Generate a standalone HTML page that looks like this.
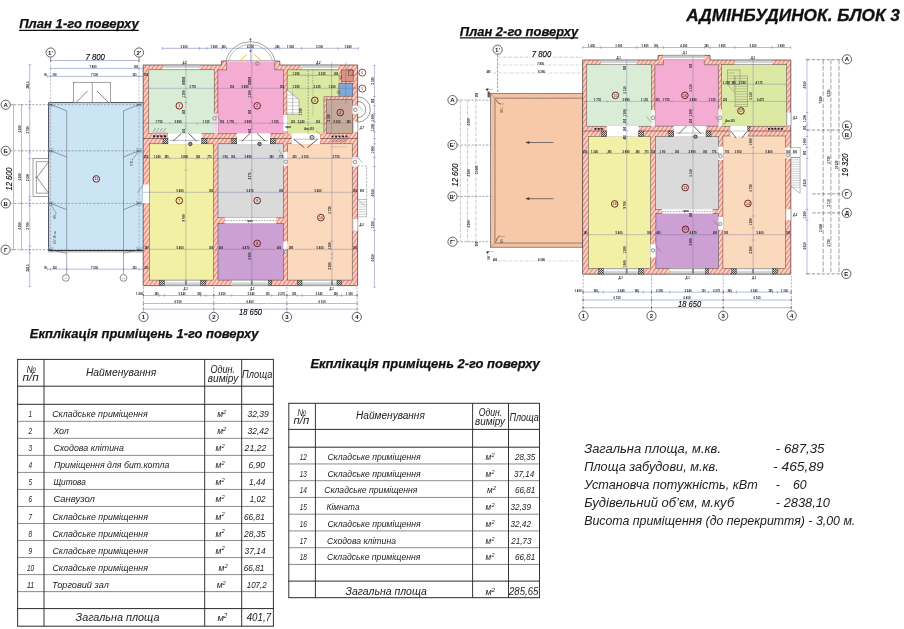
<!DOCTYPE html>
<html><head><meta charset="utf-8"><title>Адмінбудинок. Блок 3</title>
<style>
html,body{margin:0;padding:0;background:#fff;}
body{width:904px;height:629px;overflow:hidden;position:relative;font-family:"Liberation Sans",sans-serif;}
svg{position:absolute;left:0;top:0;display:block}
svg text{font-family:"Liberation Sans",sans-serif;}
.bi{font-weight:bold;font-style:italic}
.it{font-style:italic}
</style></head><body>
<svg width="904" height="629" viewBox="0 0 904 629">
<defs>
<filter id="soft" x="0" y="0" width="904" height="629" filterUnits="userSpaceOnUse"><feGaussianBlur stdDeviation="0.6"/></filter>
<pattern id="h" width="3.4" height="3.4" patternUnits="userSpaceOnUse" patternTransform="rotate(35)">
<rect width="3.4" height="3.4" fill="#fbd3cc"/><rect width="1.5" height="3.4" fill="#f0927b"/>
</pattern>
<pattern id="h2" width="2" height="2" patternUnits="userSpaceOnUse" patternTransform="rotate(-45)">
<rect width="2" height="2" fill="#fbd0b4"/><rect width="0.7" height="2" fill="#eda483"/>
</pattern>
<pattern id="ck" width="2" height="2" patternUnits="userSpaceOnUse">
<rect width="2" height="2" fill="#cfcfcf"/><rect width="1" height="1" fill="#4a4a4a"/><rect x="1" y="1" width="1" height="1" fill="#4a4a4a"/>
</pattern>
</defs>
<g id="plan1" filter="url(#soft)">
<rect x="48.40" y="102.60" width="95.00" height="148.30" fill="#cbe5f5" />
<line x1="10.50" y1="104.70" x2="50.00" y2="104.70" stroke="#555" stroke-width="0.5" stroke-dasharray="2.2 1.4" />
<line x1="50.00" y1="104.70" x2="143.00" y2="104.70" stroke="#5a6670" stroke-width="0.5" stroke-dasharray="2.2 1.4" />
<line x1="10.50" y1="150.80" x2="50.00" y2="150.80" stroke="#555" stroke-width="0.5" stroke-dasharray="2.2 1.4" />
<line x1="50.00" y1="150.80" x2="143.00" y2="150.80" stroke="#5a6670" stroke-width="0.5" stroke-dasharray="2.2 1.4" />
<line x1="10.50" y1="203.40" x2="50.00" y2="203.40" stroke="#555" stroke-width="0.5" stroke-dasharray="2.2 1.4" />
<line x1="50.00" y1="203.40" x2="143.00" y2="203.40" stroke="#5a6670" stroke-width="0.5" stroke-dasharray="2.2 1.4" />
<line x1="10.50" y1="249.70" x2="50.00" y2="249.70" stroke="#555" stroke-width="0.5" stroke-dasharray="2.2 1.4" />
<line x1="50.00" y1="249.70" x2="143.00" y2="249.70" stroke="#5a6670" stroke-width="0.5" stroke-dasharray="2.2 1.4" />
<line x1="50.60" y1="57.30" x2="50.60" y2="251.00" stroke="#777" stroke-width="0.45" stroke-dasharray="2.2 1.4" />
<line x1="139.00" y1="57.30" x2="139.00" y2="251.00" stroke="#777" stroke-width="0.45" stroke-dasharray="2.2 1.4" />
<line x1="48.40" y1="102.60" x2="143.40" y2="102.60" stroke="#333" stroke-width="0.9" />
<line x1="48.60" y1="102.60" x2="48.60" y2="250.90" stroke="#334" stroke-width="0.9" />
<line x1="48.40" y1="250.60" x2="143.40" y2="250.60" stroke="#333" stroke-width="1.1" />
<line x1="49.60" y1="252.20" x2="143.40" y2="252.20" stroke="#888" stroke-width="0.4" />
<line x1="66.70" y1="110.90" x2="66.70" y2="274.60" stroke="#556" stroke-width="0.5" />
<line x1="123.50" y1="110.90" x2="123.50" y2="274.60" stroke="#556" stroke-width="0.5" />
<line x1="50.30" y1="104.20" x2="66.70" y2="110.90" stroke="#445" stroke-width="0.5" />
<line x1="139.60" y1="104.20" x2="123.50" y2="110.90" stroke="#445" stroke-width="0.5" />
<line x1="51.00" y1="150.80" x2="66.70" y2="157.10" stroke="#445" stroke-width="0.5" />
<line x1="138.60" y1="150.80" x2="123.50" y2="157.10" stroke="#445" stroke-width="0.5" />
<line x1="51.00" y1="203.40" x2="66.70" y2="209.70" stroke="#445" stroke-width="0.5" />
<line x1="138.60" y1="203.40" x2="123.50" y2="209.70" stroke="#445" stroke-width="0.5" />
<line x1="51.00" y1="249.70" x2="66.70" y2="253.50" stroke="#445" stroke-width="0.45" />
<line x1="138.60" y1="249.70" x2="123.50" y2="253.50" stroke="#445" stroke-width="0.45" />
<rect x="48.20" y="102.50" width="4.80" height="4.40" fill="none" stroke="#8a97a2" stroke-width="0.4" />
<line x1="49.40" y1="103.50" x2="49.40" y2="105.90" stroke="#334" stroke-width="0.5" />
<line x1="51.80" y1="103.50" x2="51.80" y2="105.90" stroke="#334" stroke-width="0.5" />
<line x1="49.40" y1="104.70" x2="51.80" y2="104.70" stroke="#334" stroke-width="0.5" />
<rect x="48.20" y="148.60" width="4.80" height="4.40" fill="none" stroke="#8a97a2" stroke-width="0.4" />
<line x1="49.40" y1="149.60" x2="49.40" y2="152.00" stroke="#334" stroke-width="0.5" />
<line x1="51.80" y1="149.60" x2="51.80" y2="152.00" stroke="#334" stroke-width="0.5" />
<line x1="49.40" y1="150.80" x2="51.80" y2="150.80" stroke="#334" stroke-width="0.5" />
<rect x="48.20" y="201.20" width="4.80" height="4.40" fill="none" stroke="#8a97a2" stroke-width="0.4" />
<line x1="49.40" y1="202.20" x2="49.40" y2="204.60" stroke="#334" stroke-width="0.5" />
<line x1="51.80" y1="202.20" x2="51.80" y2="204.60" stroke="#334" stroke-width="0.5" />
<line x1="49.40" y1="203.40" x2="51.80" y2="203.40" stroke="#334" stroke-width="0.5" />
<rect x="48.20" y="247.50" width="4.80" height="4.40" fill="none" stroke="#8a97a2" stroke-width="0.4" />
<line x1="49.40" y1="248.50" x2="49.40" y2="250.90" stroke="#334" stroke-width="0.5" />
<line x1="51.80" y1="248.50" x2="51.80" y2="250.90" stroke="#334" stroke-width="0.5" />
<line x1="49.40" y1="249.70" x2="51.80" y2="249.70" stroke="#334" stroke-width="0.5" />
<rect x="136.60" y="102.50" width="4.80" height="4.40" fill="none" stroke="#8a97a2" stroke-width="0.4" />
<line x1="137.80" y1="103.50" x2="137.80" y2="105.90" stroke="#334" stroke-width="0.5" />
<line x1="140.20" y1="103.50" x2="140.20" y2="105.90" stroke="#334" stroke-width="0.5" />
<line x1="137.80" y1="104.70" x2="140.20" y2="104.70" stroke="#334" stroke-width="0.5" />
<rect x="136.60" y="148.60" width="4.80" height="4.40" fill="none" stroke="#8a97a2" stroke-width="0.4" />
<line x1="137.80" y1="149.60" x2="137.80" y2="152.00" stroke="#334" stroke-width="0.5" />
<line x1="140.20" y1="149.60" x2="140.20" y2="152.00" stroke="#334" stroke-width="0.5" />
<line x1="137.80" y1="150.80" x2="140.20" y2="150.80" stroke="#334" stroke-width="0.5" />
<rect x="136.60" y="201.20" width="4.80" height="4.40" fill="none" stroke="#8a97a2" stroke-width="0.4" />
<line x1="137.80" y1="202.20" x2="137.80" y2="204.60" stroke="#334" stroke-width="0.5" />
<line x1="140.20" y1="202.20" x2="140.20" y2="204.60" stroke="#334" stroke-width="0.5" />
<line x1="137.80" y1="203.40" x2="140.20" y2="203.40" stroke="#334" stroke-width="0.5" />
<rect x="136.60" y="247.50" width="4.80" height="4.40" fill="none" stroke="#8a97a2" stroke-width="0.4" />
<line x1="137.80" y1="248.50" x2="137.80" y2="250.90" stroke="#334" stroke-width="0.5" />
<line x1="140.20" y1="248.50" x2="140.20" y2="250.90" stroke="#334" stroke-width="0.5" />
<line x1="137.80" y1="249.70" x2="140.20" y2="249.70" stroke="#334" stroke-width="0.5" />
<text font-size="3" fill="#333" transform="translate(55.6,244) rotate(-90)">107,20 м²</text>
<text font-size="2.6" fill="#333" transform="translate(55.6,219) rotate(-90)">НЛ-1</text>
<text font-size="2.6" fill="#333" transform="translate(133.3,166) rotate(-90)">ГПЛ-1</text>
<line x1="56.60" y1="214.00" x2="50.80" y2="204.50" stroke="#445" stroke-width="0.4" />
<line x1="132.00" y1="160.00" x2="138.60" y2="151.50" stroke="#445" stroke-width="0.4" />
<rect x="73.40" y="82.20" width="37.20" height="20.40" fill="#fff" stroke="#444" stroke-width="0.5" />
<line x1="92.30" y1="82.20" x2="92.30" y2="102.60" stroke="#444" stroke-width="0.5" />
<line x1="75.90" y1="102.60" x2="87.60" y2="90.90" stroke="#333" stroke-width="0.6" />
<line x1="108.50" y1="102.60" x2="96.80" y2="90.90" stroke="#333" stroke-width="0.6" />
<rect x="33.00" y="158.40" width="15.40" height="38.30" fill="#fff" stroke="#444" stroke-width="0.5" />
<polyline points="48.40,161.70 36.40,161.70 36.40,193.20 48.40,193.20" fill="none" stroke="#444" stroke-width="0.5" />
<line x1="48.20" y1="162.30" x2="37.00" y2="177.40" stroke="#333" stroke-width="0.55" />
<line x1="48.20" y1="192.70" x2="37.00" y2="177.40" stroke="#333" stroke-width="0.55" />
<line x1="35.20" y1="177.40" x2="37.60" y2="177.40" stroke="#333" stroke-width="0.5" />
<circle cx="65.90" cy="277.90" r="3.4" fill="#fff" stroke="#333" stroke-width="0.55"/>
<circle cx="123.50" cy="277.90" r="3.4" fill="#fff" stroke="#333" stroke-width="0.55"/>
<text x="65.90" y="278.90" font-size="2.4" text-anchor="middle" fill="#333" style="" >К-1</text>
<text x="123.50" y="278.90" font-size="2.4" text-anchor="middle" fill="#333" style="" >К-1</text>
<polygon points="143.20,65.00 221.50,65.00 221.50,61.00 279.80,61.00 279.80,65.00 357.60,65.00 357.60,285.60 143.20,285.60" fill="url(#h)" stroke="#2e2e2e" stroke-width="0.65" />
<rect x="148.80" y="69.80" width="65.40" height="63.80" fill="#d9edd6" />
<rect x="217.80" y="69.80" width="65.70" height="63.80" fill="#f5acd3" />
<rect x="226.60" y="61.60" width="48.10" height="8.40" fill="#f5acd3" />
<polygon points="287.30,69.80 338.60,69.80 338.60,96.60 324.00,96.60 324.00,133.60 287.30,133.60" fill="#dce9a2" />
<rect x="326.70" y="99.50" width="25.90" height="33.80" fill="#c6aa9c" />
<rect x="338.90" y="83.20" width="13.90" height="13.00" fill="#7caadb" />
<rect x="341.20" y="69.90" width="12.00" height="11.80" fill="#db947f" />
<rect x="149.50" y="143.80" width="63.90" height="136.30" fill="#f2f0a5" />
<rect x="218.00" y="143.80" width="65.50" height="74.00" fill="#dadada" />
<rect x="218.00" y="223.30" width="65.50" height="56.80" fill="#cca0d3" />
<rect x="287.50" y="143.80" width="64.70" height="136.30" fill="#fbd9bc" />
<rect x="148.80" y="69.80" width="65.40" height="63.80" fill="none" stroke="#484848" stroke-width="0.5" />
<rect x="149.50" y="143.80" width="63.90" height="136.30" fill="none" stroke="#484848" stroke-width="0.5" />
<rect x="218.00" y="143.80" width="65.50" height="74.00" fill="none" stroke="#484848" stroke-width="0.5" />
<rect x="218.00" y="223.30" width="65.50" height="56.80" fill="none" stroke="#484848" stroke-width="0.5" />
<rect x="287.50" y="143.80" width="64.70" height="136.30" fill="none" stroke="#484848" stroke-width="0.5" />
<rect x="326.70" y="99.50" width="25.90" height="33.80" fill="none" stroke="#484848" stroke-width="0.5" />
<rect x="338.90" y="83.20" width="13.90" height="13.00" fill="none" stroke="#484848" stroke-width="0.5" />
<rect x="341.20" y="69.90" width="12.00" height="11.80" fill="none" stroke="#484848" stroke-width="0.5" />
<polyline points="226.60,61.60 226.60,69.80 217.80,69.80 217.80,133.60 283.50,133.60 283.50,69.80 274.70,69.80 274.70,61.60" fill="none" stroke="#484848" stroke-width="0.5" />
<polyline points="287.30,133.60 287.30,69.80 338.60,69.80" fill="none" stroke="#484848" stroke-width="0.5" />
<polyline points="323.90,133.60 323.90,96.70 338.90,96.70" fill="none" stroke="#4a4a4a" stroke-width="0.5" />
<rect x="348.50" y="70.00" width="4.50" height="5.60" fill="none" stroke="#333" stroke-width="0.45" />
<line x1="348.50" y1="70.00" x2="353.00" y2="75.60" stroke="#555" stroke-width="0.3" />
<line x1="143.20" y1="138.50" x2="357.60" y2="138.50" stroke="#333" stroke-width="0.55" />
<rect x="153.00" y="135.30" width="2.20" height="2.00" fill="#223" />
<rect x="156.60" y="135.30" width="2.20" height="2.00" fill="#223" />
<rect x="160.20" y="135.30" width="2.20" height="2.00" fill="#223" />
<rect x="163.80" y="135.30" width="2.20" height="2.00" fill="#223" />
<line x1="153.00" y1="131.50" x2="155.60" y2="128.00" stroke="#445" stroke-width="0.45" />
<line x1="156.40" y1="131.50" x2="159.00" y2="128.00" stroke="#445" stroke-width="0.45" />
<line x1="159.80" y1="131.50" x2="162.40" y2="128.00" stroke="#445" stroke-width="0.45" />
<line x1="163.20" y1="131.50" x2="165.80" y2="128.00" stroke="#445" stroke-width="0.45" />
<rect x="152.40" y="131.80" width="14.00" height="1.80" fill="#c9c0c8" />
<rect x="331.50" y="135.60" width="2.00" height="1.80" fill="#223" />
<rect x="335.00" y="135.60" width="2.00" height="1.80" fill="#223" />
<rect x="338.50" y="135.60" width="2.00" height="1.80" fill="#223" />
<rect x="342.00" y="135.60" width="2.00" height="1.80" fill="#223" />
<rect x="345.50" y="135.60" width="2.00" height="1.80" fill="#223" />
<line x1="331.00" y1="142.30" x2="334.00" y2="139.30" stroke="#223" stroke-width="0.7" />
<line x1="335.00" y1="142.30" x2="338.00" y2="139.30" stroke="#223" stroke-width="0.7" />
<line x1="339.00" y1="142.30" x2="342.00" y2="139.30" stroke="#223" stroke-width="0.7" />
<line x1="343.00" y1="142.30" x2="346.00" y2="139.30" stroke="#223" stroke-width="0.7" />
<line x1="330.00" y1="146.80" x2="347.00" y2="146.80" stroke="#99a" stroke-width="0.6" stroke-dasharray="1 0.6" />
<rect x="163.00" y="65.00" width="36.40" height="4.80" fill="#fff" />
<rect x="163.00" y="65.20" width="36.40" height="1.72" fill="#d2d2d2" />
<line x1="163.00" y1="65.30" x2="199.40" y2="65.30" stroke="#777" stroke-width="0.5" />
<line x1="163.00" y1="67.40" x2="199.40" y2="67.40" stroke="#888" stroke-width="0.4" />
<line x1="163.00" y1="69.50" x2="199.40" y2="69.50" stroke="#666" stroke-width="0.5" />
<rect x="301.50" y="65.00" width="36.30" height="4.80" fill="#fff" />
<rect x="301.50" y="65.20" width="36.30" height="1.72" fill="#d2d2d2" />
<line x1="301.50" y1="65.30" x2="337.80" y2="65.30" stroke="#777" stroke-width="0.5" />
<line x1="301.50" y1="67.40" x2="337.80" y2="67.40" stroke="#888" stroke-width="0.4" />
<line x1="301.50" y1="69.50" x2="337.80" y2="69.50" stroke="#666" stroke-width="0.5" />
<rect x="226.90" y="60.60" width="47.60" height="1.40" fill="#fff" />
<line x1="226.60" y1="61.00" x2="274.70" y2="61.00" stroke="#666" stroke-width="0.5" />
<line x1="240.00" y1="60.90" x2="247.00" y2="54.20" stroke="#e8a030" stroke-width="0.8" />
<line x1="261.70" y1="60.90" x2="254.20" y2="54.20" stroke="#e8a030" stroke-width="0.8" />
<circle cx="257.30" cy="63.60" r="1.7" fill="none" stroke="#333" stroke-width="0.45"/>
<rect x="168.00" y="133.20" width="33.70" height="10.90" fill="#fff" />
<rect x="236.80" y="133.20" width="33.40" height="10.90" fill="#fff" />
<rect x="291.70" y="133.20" width="28.20" height="10.90" fill="#fff" />
<rect x="163.00" y="138.50" width="5.00" height="5.30" fill="url(#ck)" stroke="#222" stroke-width="0.4" />
<rect x="201.70" y="138.50" width="5.30" height="5.30" fill="url(#ck)" stroke="#222" stroke-width="0.4" />
<rect x="231.80" y="138.50" width="5.00" height="5.30" fill="url(#ck)" stroke="#222" stroke-width="0.4" />
<rect x="270.20" y="138.50" width="5.00" height="5.30" fill="url(#ck)" stroke="#222" stroke-width="0.4" />
<rect x="275.20" y="138.50" width="0.00" height="0.00" fill="url(#ck)" stroke="#222" stroke-width="0.4" />
<line x1="170.00" y1="140.40" x2="199.70" y2="140.40" stroke="#666" stroke-width="0.45" />
<line x1="173.00" y1="141.20" x2="181.35" y2="133.40" stroke="#333" stroke-width="0.75" />
<line x1="196.70" y1="141.20" x2="188.35" y2="133.40" stroke="#333" stroke-width="0.75" />
<line x1="238.80" y1="140.40" x2="268.20" y2="140.40" stroke="#666" stroke-width="0.45" />
<line x1="241.80" y1="141.20" x2="250.00" y2="133.40" stroke="#333" stroke-width="0.75" />
<line x1="265.20" y1="141.20" x2="257.00" y2="133.40" stroke="#333" stroke-width="0.75" />
<line x1="293.70" y1="139.20" x2="317.90" y2="139.20" stroke="#666" stroke-width="0.45" />
<line x1="293.90" y1="139.20" x2="304.30" y2="147.70" stroke="#333" stroke-width="0.75" />
<line x1="317.70" y1="139.20" x2="307.30" y2="147.70" stroke="#333" stroke-width="0.75" />
<circle cx="190.30" cy="144.00" r="1.7" fill="#999" stroke="#222" stroke-width="0.8"/>
<circle cx="259.60" cy="144.00" r="1.7" fill="#999" stroke="#222" stroke-width="0.8"/>
<circle cx="312.00" cy="137.40" r="2.0" fill="#ccc" stroke="#222" stroke-width="0.7"/>
<rect x="224.80" y="217.60" width="51.50" height="5.90" fill="#fff" />
<line x1="224.80" y1="220.50" x2="276.30" y2="220.50" stroke="#555" stroke-width="0.5" stroke-dasharray="1.6 1.2" />
<text x="250.00" y="221.50" font-size="2.6" font-weight="bold" text-anchor="middle" fill="#1a1a1a" textLength="5.52" lengthAdjust="spacingAndGlyphs">арка</text>
<rect x="214.00" y="113.60" width="4.00" height="19.80" fill="#f8e6ee" />
<line x1="216.00" y1="113.60" x2="216.00" y2="133.40" stroke="#888" stroke-width="0.4" />
<circle cx="214.40" cy="118.40" r="1.7" fill="#eee" stroke="#333" stroke-width="0.45"/>
<line x1="216.00" y1="115.00" x2="220.50" y2="121.00" stroke="#555" stroke-width="0.4" />
<rect x="283.20" y="114.90" width="4.40" height="16.50" fill="#fff" />
<rect x="283.50" y="131.40" width="3.50" height="2.20" fill="url(#h)" />
<rect x="283.30" y="152.10" width="4.40" height="13.80" fill="#fff" />
<circle cx="285.70" cy="161.80" r="1.8" fill="#eee" stroke="#333" stroke-width="0.45"/>
<line x1="279.00" y1="150.00" x2="284.00" y2="158.00" stroke="#555" stroke-width="0.4" />
<rect x="283.30" y="241.50" width="4.40" height="7.70" fill="#fff" />
<circle cx="285.60" cy="251.80" r="1.4" fill="#eee" stroke="#333" stroke-width="0.4"/>
<line x1="287.70" y1="250.00" x2="291.50" y2="246.00" stroke="#555" stroke-width="0.4" />
<rect x="142.80" y="184.50" width="6.40" height="18.50" fill="#fff" />
<line x1="143.40" y1="184.60" x2="137.50" y2="193.20" stroke="#555" stroke-width="0.45" />
<rect x="352.40" y="105.80" width="5.60" height="8.00" fill="#fff" />
<circle cx="355.30" cy="109.80" r="1.8" fill="#eee" stroke="#333" stroke-width="0.45"/>
<rect x="353.00" y="121.80" width="5.00" height="10.10" fill="#fff" />
<line x1="353.30" y1="121.80" x2="353.30" y2="131.90" stroke="#888" stroke-width="0.5" />
<line x1="357.70" y1="121.80" x2="357.70" y2="131.90" stroke="#777" stroke-width="0.5" />
<rect x="352.20" y="157.20" width="5.80" height="9.40" fill="#fff" />
<circle cx="355.00" cy="162.00" r="1.8" fill="#eee" stroke="#333" stroke-width="0.45"/>
<line x1="357.80" y1="157.50" x2="362.50" y2="163.00" stroke="#555" stroke-width="0.4" />
<rect x="352.60" y="219.00" width="5.40" height="11.60" fill="#fff" />
<line x1="352.90" y1="219.00" x2="352.90" y2="230.60" stroke="#888" stroke-width="0.5" />
<line x1="357.70" y1="219.00" x2="357.70" y2="230.60" stroke="#777" stroke-width="0.5" />
<rect x="159.20" y="280.10" width="46.70" height="5.50" fill="#fff" />
<rect x="159.20" y="283.40" width="46.70" height="2.00" fill="#d2d2d2" />
<line x1="159.20" y1="280.40" x2="205.90" y2="280.40" stroke="#777" stroke-width="0.5" />
<line x1="159.20" y1="282.85" x2="205.90" y2="282.85" stroke="#888" stroke-width="0.4" />
<line x1="159.20" y1="285.30" x2="205.90" y2="285.30" stroke="#666" stroke-width="0.5" />
<rect x="159.20" y="280.40" width="5.30" height="5.00" fill="url(#ck)" stroke="#222" stroke-width="0.4" />
<rect x="200.60" y="280.40" width="5.30" height="5.00" fill="url(#ck)" stroke="#222" stroke-width="0.4" />
<rect x="231.80" y="280.10" width="40.00" height="5.50" fill="#fff" />
<rect x="231.80" y="283.40" width="40.00" height="2.00" fill="#d2d2d2" />
<line x1="231.80" y1="280.40" x2="271.80" y2="280.40" stroke="#777" stroke-width="0.5" />
<line x1="231.80" y1="282.85" x2="271.80" y2="282.85" stroke="#888" stroke-width="0.4" />
<line x1="231.80" y1="285.30" x2="271.80" y2="285.30" stroke="#666" stroke-width="0.5" />
<rect x="268.60" y="280.40" width="3.20" height="5.00" fill="url(#ck)" stroke="#222" stroke-width="0.4" />
<rect x="297.30" y="280.10" width="44.30" height="5.50" fill="#fff" />
<rect x="297.30" y="283.40" width="44.30" height="2.00" fill="#d2d2d2" />
<line x1="297.30" y1="280.40" x2="341.60" y2="280.40" stroke="#777" stroke-width="0.5" />
<line x1="297.30" y1="282.85" x2="341.60" y2="282.85" stroke="#888" stroke-width="0.4" />
<line x1="297.30" y1="285.30" x2="341.60" y2="285.30" stroke="#666" stroke-width="0.5" />
<rect x="297.30" y="280.40" width="4.70" height="5.00" fill="url(#ck)" stroke="#222" stroke-width="0.4" />
<rect x="337.00" y="280.40" width="4.60" height="5.00" fill="url(#ck)" stroke="#222" stroke-width="0.4" />
<rect x="185.00" y="280.60" width="1.80" height="4.70" fill="#888" />
<rect x="250.90" y="280.60" width="1.80" height="4.70" fill="#888" />
<rect x="331.00" y="280.60" width="1.80" height="4.70" fill="#888" />
<polygon points="286.90,89.80 299.10,99.60 299.10,114.40 286.90,114.40" fill="#fcfcf8" stroke="#666" stroke-width="0.45" />
<line x1="286.90" y1="95.10" x2="293.50" y2="95.10" stroke="#888" stroke-width="0.35" />
<line x1="286.90" y1="98.70" x2="297.98" y2="98.70" stroke="#888" stroke-width="0.35" />
<line x1="286.90" y1="102.30" x2="299.10" y2="102.30" stroke="#888" stroke-width="0.35" />
<line x1="286.90" y1="105.80" x2="299.10" y2="105.80" stroke="#888" stroke-width="0.35" />
<line x1="286.90" y1="109.40" x2="299.10" y2="109.40" stroke="#888" stroke-width="0.35" />
<line x1="286.90" y1="112.90" x2="299.10" y2="112.90" stroke="#888" stroke-width="0.35" />
<line x1="292.80" y1="94.60" x2="292.80" y2="114.40" stroke="#999" stroke-width="0.3" />
<path d="M225.9 61 A25.3 25.3 0 0 1 275.1 61" fill="none" stroke="#555" stroke-width="0.55"/>
<path d="M228.4 61 A23 23 0 0 1 272.6 61" fill="none" stroke="#8a7a40" stroke-width="0.5"/>
<path d="M357.6 96.8 A12.7 12.7 0 0 1 357.6 122.2" fill="none" stroke="#444" stroke-width="0.55"/>
<path d="M357.6 101.3 A8.2 8.2 0 0 1 357.6 117.7" fill="none" stroke="#444" stroke-width="0.55"/>
<line x1="358.60" y1="105.50" x2="363.50" y2="111.50" stroke="#555" stroke-width="0.4" />
<polyline points="357.80,165.90 366.60,165.90 366.60,199.50" fill="none" stroke="#666" stroke-width="0.5" stroke-dasharray="2 1.4"/>
<rect x="357.80" y="199.50" width="8.40" height="17.40" fill="#fff" stroke="#666" stroke-width="0.4" />
<line x1="357.80" y1="201.95" x2="366.20" y2="201.95" stroke="#777" stroke-width="0.35" />
<line x1="357.80" y1="204.40" x2="366.20" y2="204.40" stroke="#777" stroke-width="0.35" />
<line x1="357.80" y1="206.85" x2="366.20" y2="206.85" stroke="#777" stroke-width="0.35" />
<line x1="357.80" y1="209.30" x2="366.20" y2="209.30" stroke="#777" stroke-width="0.35" />
<line x1="357.80" y1="211.75" x2="366.20" y2="211.75" stroke="#777" stroke-width="0.35" />
<line x1="357.80" y1="214.20" x2="366.20" y2="214.20" stroke="#777" stroke-width="0.35" />
<line x1="357.80" y1="199.50" x2="364.50" y2="205.50" stroke="#666" stroke-width="0.4" />
<line x1="143.20" y1="88.30" x2="357.60" y2="88.30" stroke="#666a9c" stroke-width="0.36" />
<line x1="143.20" y1="123.20" x2="324.00" y2="123.20" stroke="#666a9c" stroke-width="0.36" />
<line x1="143.20" y1="158.30" x2="357.60" y2="158.30" stroke="#666a9c" stroke-width="0.36" />
<line x1="143.20" y1="192.30" x2="357.60" y2="192.30" stroke="#666a9c" stroke-width="0.36" />
<line x1="143.20" y1="249.30" x2="357.60" y2="249.30" stroke="#666a9c" stroke-width="0.36" />
<line x1="185.90" y1="66.00" x2="185.90" y2="284.00" stroke="#666a9c" stroke-width="0.36" />
<line x1="251.80" y1="44.00" x2="251.80" y2="284.00" stroke="#666a9c" stroke-width="0.36" />
<line x1="331.90" y1="144.00" x2="331.90" y2="284.00" stroke="#666a9c" stroke-width="0.36" />
<line x1="308.20" y1="70.00" x2="308.20" y2="134.00" stroke="#4a5a6a" stroke-width="0.45" stroke-dasharray="2 1" />
<line x1="312.90" y1="70.00" x2="312.90" y2="116.00" stroke="#4a5a6a" stroke-width="0.35" stroke-dasharray="1.5 1" />
<line x1="331.60" y1="62.00" x2="331.60" y2="134.00" stroke="#6868ae" stroke-width="0.4" />
<line x1="345.80" y1="62.00" x2="345.80" y2="104.00" stroke="#6868ae" stroke-width="0.4" />
<line x1="292.50" y1="90.00" x2="292.50" y2="114.00" stroke="#889" stroke-width="0.3" />
<line x1="287.50" y1="75.30" x2="340.00" y2="75.30" stroke="#4a5a6a" stroke-width="0.4" />
<line x1="324.00" y1="123.20" x2="353.00" y2="123.20" stroke="#666a9c" stroke-width="0.36" />
<text x="159.00" y="122.70" font-size="3.5" font-weight="bold" text-anchor="middle" fill="#1a1a1a" textLength="6.90" lengthAdjust="spacingAndGlyphs">1 755</text>
<text x="178.00" y="122.70" font-size="3.5" font-weight="bold" text-anchor="middle" fill="#1a1a1a" textLength="6.90" lengthAdjust="spacingAndGlyphs">2 890</text>
<text x="206.00" y="122.70" font-size="3.5" font-weight="bold" text-anchor="middle" fill="#1a1a1a" textLength="6.90" lengthAdjust="spacingAndGlyphs">1 155</text>
<text x="222.00" y="122.70" font-size="3.5" font-weight="bold" text-anchor="middle" fill="#1a1a1a" textLength="4.14" lengthAdjust="spacingAndGlyphs">250</text>
<text x="230.50" y="122.70" font-size="3.5" font-weight="bold" text-anchor="middle" fill="#1a1a1a" textLength="6.90" lengthAdjust="spacingAndGlyphs">1 755</text>
<text x="248.00" y="122.70" font-size="3.5" font-weight="bold" text-anchor="middle" fill="#1a1a1a" textLength="6.90" lengthAdjust="spacingAndGlyphs">2 890</text>
<text x="275.00" y="122.70" font-size="3.5" font-weight="bold" text-anchor="middle" fill="#1a1a1a" textLength="6.90" lengthAdjust="spacingAndGlyphs">1 155</text>
<text x="293.00" y="122.70" font-size="3.5" font-weight="bold" text-anchor="middle" fill="#1a1a1a" textLength="4.14" lengthAdjust="spacingAndGlyphs">250</text>
<text x="301.00" y="122.70" font-size="3.5" font-weight="bold" text-anchor="middle" fill="#1a1a1a" textLength="6.90" lengthAdjust="spacingAndGlyphs">3 240</text>
<text x="318.00" y="122.70" font-size="3.5" font-weight="bold" text-anchor="middle" fill="#1a1a1a" textLength="4.14" lengthAdjust="spacingAndGlyphs">250</text>
<text x="337.00" y="122.70" font-size="3.5" font-weight="bold" text-anchor="middle" fill="#1a1a1a" textLength="6.90" lengthAdjust="spacingAndGlyphs">2 100</text>
<text x="348.50" y="122.70" font-size="3.5" font-weight="bold" text-anchor="middle" fill="#1a1a1a" textLength="4.14" lengthAdjust="spacingAndGlyphs">380</text>
<text x="192.60" y="87.80" font-size="3.5" font-weight="bold" text-anchor="middle" fill="#1a1a1a" textLength="6.90" lengthAdjust="spacingAndGlyphs">3 770</text>
<text x="232.00" y="87.80" font-size="3.5" font-weight="bold" text-anchor="middle" fill="#1a1a1a" textLength="4.14" lengthAdjust="spacingAndGlyphs">250</text>
<text x="245.00" y="87.80" font-size="3.5" font-weight="bold" text-anchor="middle" fill="#1a1a1a" textLength="6.90" lengthAdjust="spacingAndGlyphs">5 890</text>
<text x="282.00" y="87.80" font-size="3.5" font-weight="bold" text-anchor="middle" fill="#1a1a1a" textLength="4.14" lengthAdjust="spacingAndGlyphs">250</text>
<text x="296.00" y="87.80" font-size="3.5" font-weight="bold" text-anchor="middle" fill="#1a1a1a" textLength="6.90" lengthAdjust="spacingAndGlyphs">1 290</text>
<text x="317.00" y="87.80" font-size="3.5" font-weight="bold" text-anchor="middle" fill="#1a1a1a" textLength="6.90" lengthAdjust="spacingAndGlyphs">2 235</text>
<text x="332.00" y="87.80" font-size="3.5" font-weight="bold" text-anchor="middle" fill="#1a1a1a" textLength="6.90" lengthAdjust="spacingAndGlyphs">1 200</text>
<text x="146.00" y="157.80" font-size="3.5" font-weight="bold" text-anchor="middle" fill="#1a1a1a" textLength="4.14" lengthAdjust="spacingAndGlyphs">250</text>
<text x="157.00" y="157.80" font-size="3.5" font-weight="bold" text-anchor="middle" fill="#1a1a1a" textLength="6.90" lengthAdjust="spacingAndGlyphs">1 240</text>
<text x="166.50" y="157.80" font-size="3.5" font-weight="bold" text-anchor="middle" fill="#1a1a1a" textLength="4.14" lengthAdjust="spacingAndGlyphs">380</text>
<text x="184.50" y="157.80" font-size="3.5" font-weight="bold" text-anchor="middle" fill="#1a1a1a" textLength="6.90" lengthAdjust="spacingAndGlyphs">2 890</text>
<text x="198.00" y="157.80" font-size="3.5" font-weight="bold" text-anchor="middle" fill="#1a1a1a" textLength="4.14" lengthAdjust="spacingAndGlyphs">380</text>
<text x="209.50" y="157.80" font-size="3.5" font-weight="bold" text-anchor="middle" fill="#1a1a1a" textLength="4.14" lengthAdjust="spacingAndGlyphs">770</text>
<text x="225.00" y="157.80" font-size="3.5" font-weight="bold" text-anchor="middle" fill="#1a1a1a" textLength="5.52" lengthAdjust="spacingAndGlyphs">1 90</text>
<text x="233.00" y="157.80" font-size="3.5" font-weight="bold" text-anchor="middle" fill="#1a1a1a" textLength="4.14" lengthAdjust="spacingAndGlyphs">380</text>
<text x="248.00" y="157.80" font-size="3.5" font-weight="bold" text-anchor="middle" fill="#1a1a1a" textLength="6.90" lengthAdjust="spacingAndGlyphs">2 890</text>
<text x="271.50" y="157.80" font-size="3.5" font-weight="bold" text-anchor="middle" fill="#1a1a1a" textLength="4.14" lengthAdjust="spacingAndGlyphs">380</text>
<text x="281.00" y="157.80" font-size="3.5" font-weight="bold" text-anchor="middle" fill="#1a1a1a" textLength="4.14" lengthAdjust="spacingAndGlyphs">770</text>
<text x="294.50" y="157.80" font-size="3.5" font-weight="bold" text-anchor="middle" fill="#1a1a1a" textLength="4.14" lengthAdjust="spacingAndGlyphs">250</text>
<text x="305.00" y="157.80" font-size="3.5" font-weight="bold" text-anchor="middle" fill="#1a1a1a" textLength="6.90" lengthAdjust="spacingAndGlyphs">2 100</text>
<text x="336.00" y="157.80" font-size="3.5" font-weight="bold" text-anchor="middle" fill="#1a1a1a" textLength="6.90" lengthAdjust="spacingAndGlyphs">2 750</text>
<text x="180.00" y="191.80" font-size="3.5" font-weight="bold" text-anchor="middle" fill="#1a1a1a" textLength="6.90" lengthAdjust="spacingAndGlyphs">5 400</text>
<text x="211.00" y="191.80" font-size="3.5" font-weight="bold" text-anchor="middle" fill="#1a1a1a" textLength="4.14" lengthAdjust="spacingAndGlyphs">380</text>
<text x="250.00" y="191.80" font-size="3.5" font-weight="bold" text-anchor="middle" fill="#1a1a1a" textLength="6.90" lengthAdjust="spacingAndGlyphs">5 470</text>
<text x="281.00" y="191.80" font-size="3.5" font-weight="bold" text-anchor="middle" fill="#1a1a1a" textLength="4.14" lengthAdjust="spacingAndGlyphs">380</text>
<text x="318.00" y="191.80" font-size="3.5" font-weight="bold" text-anchor="middle" fill="#1a1a1a" textLength="6.90" lengthAdjust="spacingAndGlyphs">5 400</text>
<text x="355.00" y="191.80" font-size="3.5" font-weight="bold" text-anchor="middle" fill="#1a1a1a" textLength="4.14" lengthAdjust="spacingAndGlyphs">380</text>
<text x="362.00" y="191.80" font-size="3.5" font-weight="bold" text-anchor="middle" fill="#1a1a1a" textLength="4.14" lengthAdjust="spacingAndGlyphs">800</text>
<text x="146.50" y="248.80" font-size="3.5" font-weight="bold" text-anchor="middle" fill="#1a1a1a" textLength="4.14" lengthAdjust="spacingAndGlyphs">380</text>
<text x="180.00" y="248.80" font-size="3.5" font-weight="bold" text-anchor="middle" fill="#1a1a1a" textLength="6.90" lengthAdjust="spacingAndGlyphs">5 400</text>
<text x="211.00" y="248.80" font-size="3.5" font-weight="bold" text-anchor="middle" fill="#1a1a1a" textLength="4.14" lengthAdjust="spacingAndGlyphs">380</text>
<text x="221.00" y="248.80" font-size="3.5" font-weight="bold" text-anchor="middle" fill="#1a1a1a" textLength="4.14" lengthAdjust="spacingAndGlyphs">400</text>
<text x="246.00" y="248.80" font-size="3.5" font-weight="bold" text-anchor="middle" fill="#1a1a1a" textLength="6.90" lengthAdjust="spacingAndGlyphs">4 470</text>
<text x="279.00" y="248.80" font-size="3.5" font-weight="bold" text-anchor="middle" fill="#1a1a1a" textLength="4.14" lengthAdjust="spacingAndGlyphs">400</text>
<text x="291.00" y="248.80" font-size="3.5" font-weight="bold" text-anchor="middle" fill="#1a1a1a" textLength="4.14" lengthAdjust="spacingAndGlyphs">395</text>
<text x="320.00" y="248.80" font-size="3.5" font-weight="bold" text-anchor="middle" fill="#1a1a1a" textLength="6.90" lengthAdjust="spacingAndGlyphs">5 400</text>
<text x="355.00" y="248.80" font-size="3.5" font-weight="bold" text-anchor="middle" fill="#1a1a1a" textLength="4.14" lengthAdjust="spacingAndGlyphs">380</text>
<text font-size="3.5" font-weight="bold" text-anchor="middle" fill="#1a1a1a" textLength="4.14" lengthAdjust="spacingAndGlyphs" transform="translate(185.30,83.00) rotate(-90)">500</text>
<text font-size="3.5" font-weight="bold" text-anchor="middle" fill="#1a1a1a" textLength="4.14" lengthAdjust="spacingAndGlyphs" transform="translate(185.30,112.00) rotate(-90)">300</text>
<text font-size="3.5" font-weight="bold" text-anchor="middle" fill="#1a1a1a" textLength="4.14" lengthAdjust="spacingAndGlyphs" transform="translate(251.20,83.00) rotate(-90)">500</text>
<text font-size="3.5" font-weight="bold" text-anchor="middle" fill="#1a1a1a" textLength="4.14" lengthAdjust="spacingAndGlyphs" transform="translate(251.20,112.00) rotate(-90)">300</text>
<text font-size="3.5" font-weight="bold" text-anchor="middle" fill="#1a1a1a" textLength="6.90" lengthAdjust="spacingAndGlyphs" transform="translate(185.20,218.00) rotate(-90)">9 700</text>
<text font-size="3.5" font-weight="bold" text-anchor="middle" fill="#1a1a1a" textLength="6.90" lengthAdjust="spacingAndGlyphs" transform="translate(251.10,176.00) rotate(-90)">4 275</text>
<text font-size="3.5" font-weight="bold" text-anchor="middle" fill="#1a1a1a" textLength="6.90" lengthAdjust="spacingAndGlyphs" transform="translate(251.10,256.00) rotate(-90)">3 000</text>
<text font-size="3.5" font-weight="bold" text-anchor="middle" fill="#1a1a1a" textLength="6.90" lengthAdjust="spacingAndGlyphs" transform="translate(331.20,210.00) rotate(-90)">5 730</text>
<text font-size="3.5" font-weight="bold" text-anchor="middle" fill="#1a1a1a" textLength="6.90" lengthAdjust="spacingAndGlyphs" transform="translate(331.20,246.00) rotate(-90)">1 200</text>
<text font-size="3.5" font-weight="bold" text-anchor="middle" fill="#1a1a1a" textLength="6.90" lengthAdjust="spacingAndGlyphs" transform="translate(331.20,266.00) rotate(-90)">2 200</text>
<text font-size="3.5" font-weight="bold" text-anchor="middle" fill="#1a1a1a" textLength="6.90" lengthAdjust="spacingAndGlyphs" transform="translate(185.20,94.00) rotate(-90)">1 200</text>
<text font-size="3.5" font-weight="bold" text-anchor="middle" fill="#1a1a1a" textLength="6.90" lengthAdjust="spacingAndGlyphs" transform="translate(251.10,94.00) rotate(-90)">1 200</text>
<text font-size="3.5" font-weight="bold" text-anchor="middle" fill="#1a1a1a" textLength="4.14" lengthAdjust="spacingAndGlyphs" transform="translate(185.20,79.00) rotate(-90)">500</text>
<text font-size="3.5" font-weight="bold" text-anchor="middle" fill="#1a1a1a" textLength="4.14" lengthAdjust="spacingAndGlyphs" transform="translate(251.10,79.00) rotate(-90)">500</text>
<text font-size="3.5" font-weight="bold" text-anchor="middle" fill="#1a1a1a" textLength="4.14" lengthAdjust="spacingAndGlyphs" transform="translate(251.10,131.00) rotate(-90)">250</text>
<text font-size="3.5" font-weight="bold" text-anchor="middle" fill="#1a1a1a" textLength="4.14" lengthAdjust="spacingAndGlyphs" transform="translate(185.20,131.00) rotate(-90)">250</text>
<text font-size="3.5" font-weight="bold" text-anchor="middle" fill="#1a1a1a" textLength="6.90" lengthAdjust="spacingAndGlyphs" transform="translate(302.30,112.00) rotate(-90)">1 190</text>
<text font-size="3.5" font-weight="bold" text-anchor="middle" fill="#1a1a1a" textLength="6.90" lengthAdjust="spacingAndGlyphs" transform="translate(330.00,118.00) rotate(-90)">2 180</text>
<line x1="184.40" y1="97.50" x2="187.40" y2="97.50" stroke="#666a9c" stroke-width="0.34" />
<line x1="184.40" y1="102.50" x2="187.40" y2="102.50" stroke="#666a9c" stroke-width="0.34" />
<line x1="184.40" y1="126.00" x2="187.40" y2="126.00" stroke="#666a9c" stroke-width="0.34" />
<line x1="184.40" y1="129.00" x2="187.40" y2="129.00" stroke="#666a9c" stroke-width="0.34" />
<line x1="184.40" y1="170.00" x2="187.40" y2="170.00" stroke="#666a9c" stroke-width="0.34" />
<line x1="250.30" y1="97.50" x2="253.30" y2="97.50" stroke="#666a9c" stroke-width="0.34" />
<line x1="250.30" y1="102.50" x2="253.30" y2="102.50" stroke="#666a9c" stroke-width="0.34" />
<line x1="250.30" y1="126.00" x2="253.30" y2="126.00" stroke="#666a9c" stroke-width="0.34" />
<line x1="250.30" y1="129.00" x2="253.30" y2="129.00" stroke="#666a9c" stroke-width="0.34" />
<line x1="250.30" y1="170.00" x2="253.30" y2="170.00" stroke="#666a9c" stroke-width="0.34" />
<line x1="330.40" y1="241.00" x2="333.40" y2="241.00" stroke="#666a9c" stroke-width="0.34" />
<line x1="330.40" y1="254.00" x2="333.40" y2="254.00" stroke="#666a9c" stroke-width="0.34" />
<line x1="330.40" y1="258.00" x2="333.40" y2="258.00" stroke="#666a9c" stroke-width="0.34" />
<line x1="170.00" y1="122.00" x2="170.00" y2="124.40" stroke="#666a9c" stroke-width="0.34" />
<line x1="197.00" y1="122.00" x2="197.00" y2="124.40" stroke="#666a9c" stroke-width="0.34" />
<line x1="207.50" y1="122.00" x2="207.50" y2="124.40" stroke="#666a9c" stroke-width="0.34" />
<line x1="228.00" y1="122.00" x2="228.00" y2="124.40" stroke="#666a9c" stroke-width="0.34" />
<line x1="236.00" y1="122.00" x2="236.00" y2="124.40" stroke="#666a9c" stroke-width="0.34" />
<line x1="270.00" y1="122.00" x2="270.00" y2="124.40" stroke="#666a9c" stroke-width="0.34" />
<line x1="278.00" y1="122.00" x2="278.00" y2="124.40" stroke="#666a9c" stroke-width="0.34" />
<line x1="299.50" y1="122.00" x2="299.50" y2="124.40" stroke="#666a9c" stroke-width="0.34" />
<line x1="170.00" y1="157.10" x2="170.00" y2="159.50" stroke="#666a9c" stroke-width="0.34" />
<line x1="197.00" y1="157.10" x2="197.00" y2="159.50" stroke="#666a9c" stroke-width="0.34" />
<line x1="207.50" y1="157.10" x2="207.50" y2="159.50" stroke="#666a9c" stroke-width="0.34" />
<line x1="228.00" y1="157.10" x2="228.00" y2="159.50" stroke="#666a9c" stroke-width="0.34" />
<line x1="236.00" y1="157.10" x2="236.00" y2="159.50" stroke="#666a9c" stroke-width="0.34" />
<line x1="270.00" y1="157.10" x2="270.00" y2="159.50" stroke="#666a9c" stroke-width="0.34" />
<line x1="278.00" y1="157.10" x2="278.00" y2="159.50" stroke="#666a9c" stroke-width="0.34" />
<line x1="299.50" y1="157.10" x2="299.50" y2="159.50" stroke="#666a9c" stroke-width="0.34" />
<text x="296.00" y="74.80" font-size="3.5" font-weight="bold" text-anchor="middle" fill="#1a1a1a" textLength="6.90" lengthAdjust="spacingAndGlyphs">1 290</text>
<text x="322.00" y="74.80" font-size="3.5" font-weight="bold" text-anchor="middle" fill="#1a1a1a" textLength="6.90" lengthAdjust="spacingAndGlyphs">2 235</text>
<text x="336.00" y="74.80" font-size="3.5" font-weight="bold" text-anchor="middle" fill="#1a1a1a" textLength="4.14" lengthAdjust="spacingAndGlyphs">380</text>
<text x="288.20" y="128.30" font-size="2.6" font-weight="bold" text-anchor="middle" fill="#1a1a1a" textLength="5.52" lengthAdjust="spacingAndGlyphs">арка</text>
<text x="309.00" y="129.80" font-size="2.8" font-weight="bold" text-anchor="middle" fill="#1a1a1a" textLength="9.66" lengthAdjust="spacingAndGlyphs">Ась-003</text>
<line x1="316.00" y1="131.00" x2="320.50" y2="134.50" stroke="#333" stroke-width="0.4" />
<circle cx="179.30" cy="105.80" r="3.3" fill="none" stroke="#7a1414" stroke-width="0.95"/>
<text x="179.30" y="107.05" font-size="3.5" text-anchor="middle" fill="#222" style="" >1</text>
<circle cx="257.20" cy="105.80" r="3.3" fill="none" stroke="#7a1414" stroke-width="0.95"/>
<text x="257.20" y="107.05" font-size="3.5" text-anchor="middle" fill="#222" style="" >2</text>
<circle cx="314.80" cy="100.40" r="3.3" fill="none" stroke="#7a1414" stroke-width="0.95"/>
<text x="314.80" y="101.65" font-size="3.5" text-anchor="middle" fill="#222" style="" >3</text>
<circle cx="340.30" cy="112.60" r="3.3" fill="none" stroke="#7a1414" stroke-width="0.95"/>
<text x="340.30" y="113.85" font-size="3.5" text-anchor="middle" fill="#222" style="" >4</text>
<circle cx="179.30" cy="200.60" r="3.3" fill="none" stroke="#7a1414" stroke-width="0.95"/>
<text x="179.30" y="201.85" font-size="3.5" text-anchor="middle" fill="#222" style="" >7</text>
<circle cx="257.20" cy="200.60" r="3.3" fill="none" stroke="#7a1414" stroke-width="0.95"/>
<text x="257.20" y="201.85" font-size="3.5" text-anchor="middle" fill="#222" style="" >9</text>
<circle cx="257.20" cy="243.40" r="3.3" fill="none" stroke="#7a1414" stroke-width="0.95"/>
<text x="257.20" y="244.65" font-size="3.5" text-anchor="middle" fill="#222" style="" >8</text>
<circle cx="320.90" cy="217.60" r="3.3" fill="none" stroke="#7a1414" stroke-width="0.95"/>
<text x="320.90" y="218.85" font-size="3.5" text-anchor="middle" fill="#222" style="" >10</text>
<circle cx="96.30" cy="178.90" r="3.3" fill="none" stroke="#7a1414" stroke-width="0.95"/>
<text x="96.30" y="180.15" font-size="3.5" text-anchor="middle" fill="#222" style="" >11</text>
<circle cx="362.30" cy="72.60" r="3.5" fill="#fff" stroke="#7a1a1a" stroke-width="0.8"/>
<text x="362.30" y="73.90" font-size="3.4" text-anchor="middle" fill="#333" style="" >6</text>
<circle cx="362.30" cy="88.60" r="3.5" fill="#fff" stroke="#7a1a1a" stroke-width="0.8"/>
<text x="362.30" y="89.90" font-size="3.4" text-anchor="middle" fill="#333" style="" >5</text>
<line x1="353.50" y1="75.50" x2="358.90" y2="73.50" stroke="#666a9c" stroke-width="0.34" />
<line x1="353.00" y1="87.50" x2="358.90" y2="88.20" stroke="#666a9c" stroke-width="0.34" />
<circle cx="340.40" cy="77.30" r="1.5" fill="none" stroke="#334" stroke-width="0.4"/>
<circle cx="338.60" cy="92.20" r="1.5" fill="none" stroke="#334" stroke-width="0.4"/>
<text x="184.50" y="64.20" font-size="2.6" text-anchor="middle" fill="#222" style="font-style:italic;font-weight:bold" >Д-2</text>
<text x="318.30" y="64.20" font-size="2.6" text-anchor="middle" fill="#222" style="font-style:italic;font-weight:bold" >Д-2</text>
<text x="185.50" y="290.30" font-size="2.6" text-anchor="middle" fill="#222" style="font-style:italic;font-weight:bold" >Д-1</text>
<text x="252.40" y="290.30" font-size="2.6" text-anchor="middle" fill="#222" style="font-style:italic;font-weight:bold" >Д-1</text>
<text x="331.50" y="290.30" font-size="2.6" text-anchor="middle" fill="#222" style="font-style:italic;font-weight:bold" >Д-1</text>
<text x="361.60" y="226.20" font-size="2.6" text-anchor="middle" fill="#222" style="font-style:italic;font-weight:bold" >Д-2</text>
<text x="361.80" y="129.30" font-size="2.6" text-anchor="middle" fill="#222" style="font-style:italic;font-weight:bold" >Д-7</text>
<line x1="185.90" y1="60.00" x2="185.90" y2="66.00" stroke="#666a9c" stroke-width="0.34" />
<line x1="207.00" y1="48.30" x2="358.50" y2="48.30" stroke="#6c78c2" stroke-width="0.5" />
<line x1="221.90" y1="46.90" x2="221.90" y2="49.70" stroke="#6c78c2" stroke-width="0.5" />
<line x1="226.40" y1="46.90" x2="226.40" y2="49.70" stroke="#6c78c2" stroke-width="0.5" />
<line x1="275.20" y1="46.90" x2="275.20" y2="49.70" stroke="#6c78c2" stroke-width="0.5" />
<line x1="279.80" y1="46.90" x2="279.80" y2="49.70" stroke="#6c78c2" stroke-width="0.5" />
<line x1="301.50" y1="46.90" x2="301.50" y2="49.70" stroke="#6c78c2" stroke-width="0.5" />
<line x1="337.80" y1="46.90" x2="337.80" y2="49.70" stroke="#6c78c2" stroke-width="0.5" />
<line x1="207.00" y1="46.90" x2="207.00" y2="49.70" stroke="#6c78c2" stroke-width="0.5" />
<line x1="358.50" y1="46.90" x2="358.50" y2="49.70" stroke="#6c78c2" stroke-width="0.5" />
<text x="184.00" y="47.70" font-size="3.5" font-weight="bold" text-anchor="middle" fill="#1a1a1a" textLength="6.90" lengthAdjust="spacingAndGlyphs">3 200</text>
<text x="214.00" y="47.70" font-size="3.5" font-weight="bold" text-anchor="middle" fill="#1a1a1a" textLength="6.90" lengthAdjust="spacingAndGlyphs">1 965</text>
<text x="223.80" y="47.70" font-size="3.5" font-weight="bold" text-anchor="middle" fill="#1a1a1a" textLength="4.14" lengthAdjust="spacingAndGlyphs">380</text>
<text x="250.50" y="47.70" font-size="3.5" font-weight="bold" text-anchor="middle" fill="#1a1a1a" textLength="6.90" lengthAdjust="spacingAndGlyphs">4 200</text>
<text x="277.40" y="47.70" font-size="3.5" font-weight="bold" text-anchor="middle" fill="#1a1a1a" textLength="4.14" lengthAdjust="spacingAndGlyphs">380</text>
<text x="290.50" y="47.70" font-size="3.5" font-weight="bold" text-anchor="middle" fill="#1a1a1a" textLength="6.90" lengthAdjust="spacingAndGlyphs">1 965</text>
<text x="319.50" y="47.70" font-size="3.5" font-weight="bold" text-anchor="middle" fill="#1a1a1a" textLength="6.90" lengthAdjust="spacingAndGlyphs">3 200</text>
<text x="348.00" y="47.70" font-size="3.5" font-weight="bold" text-anchor="middle" fill="#1a1a1a" textLength="6.90" lengthAdjust="spacingAndGlyphs">1 680</text>
<line x1="162.40" y1="48.30" x2="207.00" y2="48.30" stroke="#6c78c2" stroke-width="0.55" />
<line x1="162.40" y1="46.90" x2="162.40" y2="49.70" stroke="#6c78c2" stroke-width="0.55" />
<line x1="199.40" y1="46.90" x2="199.40" y2="49.70" stroke="#6c78c2" stroke-width="0.55" />
<line x1="250.50" y1="40.00" x2="250.50" y2="62.00" stroke="#666a9c" stroke-width="0.34" />
<rect x="249.70" y="38.40" width="1.60" height="2.00" fill="#555" />
<rect x="249.70" y="50.00" width="1.60" height="2.00" fill="#667" />
<line x1="50.60" y1="60.50" x2="139.00" y2="60.50" stroke="#6c78c2" stroke-width="0.5" />
<line x1="50.60" y1="59.10" x2="50.60" y2="61.90" stroke="#6c78c2" stroke-width="0.5" />
<line x1="139.00" y1="59.10" x2="139.00" y2="61.90" stroke="#6c78c2" stroke-width="0.5" />
<line x1="50.60" y1="68.40" x2="143.30" y2="68.40" stroke="#6c78c2" stroke-width="0.5" />
<line x1="139.00" y1="67.00" x2="139.00" y2="69.80" stroke="#6c78c2" stroke-width="0.5" />
<line x1="50.60" y1="67.00" x2="50.60" y2="69.80" stroke="#6c78c2" stroke-width="0.5" />
<line x1="143.30" y1="67.00" x2="143.30" y2="69.80" stroke="#6c78c2" stroke-width="0.5" />
<text x="93.00" y="67.80" font-size="3.5" font-weight="bold" text-anchor="middle" fill="#1a1a1a" textLength="6.90" lengthAdjust="spacingAndGlyphs">7 800</text>
<text x="136.00" y="67.80" font-size="3.5" font-weight="bold" text-anchor="middle" fill="#1a1a1a" textLength="4.14" lengthAdjust="spacingAndGlyphs">380</text>
<line x1="47.60" y1="76.40" x2="143.30" y2="76.40" stroke="#6c78c2" stroke-width="0.5" />
<line x1="50.60" y1="75.00" x2="50.60" y2="77.80" stroke="#6c78c2" stroke-width="0.5" />
<line x1="139.00" y1="75.00" x2="139.00" y2="77.80" stroke="#6c78c2" stroke-width="0.5" />
<line x1="47.60" y1="75.00" x2="47.60" y2="77.80" stroke="#6c78c2" stroke-width="0.5" />
<line x1="143.30" y1="75.00" x2="143.30" y2="77.80" stroke="#6c78c2" stroke-width="0.5" />
<text x="45.60" y="75.80" font-size="3.5" font-weight="bold" text-anchor="middle" fill="#1a1a1a" textLength="2.76" lengthAdjust="spacingAndGlyphs">90</text>
<text x="54.60" y="75.80" font-size="3.5" font-weight="bold" text-anchor="middle" fill="#1a1a1a" textLength="4.14" lengthAdjust="spacingAndGlyphs">300</text>
<text x="94.50" y="75.80" font-size="3.5" font-weight="bold" text-anchor="middle" fill="#1a1a1a" textLength="6.90" lengthAdjust="spacingAndGlyphs">7 500</text>
<text x="134.50" y="75.80" font-size="3.5" font-weight="bold" text-anchor="middle" fill="#1a1a1a" textLength="4.14" lengthAdjust="spacingAndGlyphs">300</text>
<text x="146.00" y="75.80" font-size="3.5" font-weight="bold" text-anchor="middle" fill="#1a1a1a" textLength="4.14" lengthAdjust="spacingAndGlyphs">380</text>
<line x1="139.00" y1="57.30" x2="139.00" y2="62.00" stroke="#a04040" stroke-width="0.45" />
<line x1="50.60" y1="57.30" x2="50.60" y2="62.00" stroke="#a04040" stroke-width="0.45" />
<line x1="47.60" y1="269.20" x2="143.30" y2="269.20" stroke="#6c78c2" stroke-width="0.5" />
<line x1="50.60" y1="267.80" x2="50.60" y2="270.60" stroke="#6c78c2" stroke-width="0.5" />
<line x1="66.70" y1="267.80" x2="66.70" y2="270.60" stroke="#6c78c2" stroke-width="0.5" />
<line x1="123.50" y1="267.80" x2="123.50" y2="270.60" stroke="#6c78c2" stroke-width="0.5" />
<line x1="139.00" y1="267.80" x2="139.00" y2="270.60" stroke="#6c78c2" stroke-width="0.5" />
<line x1="47.60" y1="267.80" x2="47.60" y2="270.60" stroke="#6c78c2" stroke-width="0.5" />
<line x1="143.30" y1="267.80" x2="143.30" y2="270.60" stroke="#6c78c2" stroke-width="0.5" />
<text x="45.60" y="268.60" font-size="3.5" font-weight="bold" text-anchor="middle" fill="#1a1a1a" textLength="2.76" lengthAdjust="spacingAndGlyphs">90</text>
<text x="54.80" y="268.60" font-size="3.5" font-weight="bold" text-anchor="middle" fill="#1a1a1a" textLength="4.14" lengthAdjust="spacingAndGlyphs">300</text>
<text x="94.50" y="268.60" font-size="3.5" font-weight="bold" text-anchor="middle" fill="#1a1a1a" textLength="6.90" lengthAdjust="spacingAndGlyphs">7 500</text>
<text x="134.50" y="268.60" font-size="3.5" font-weight="bold" text-anchor="middle" fill="#1a1a1a" textLength="4.14" lengthAdjust="spacingAndGlyphs">300</text>
<text x="146.20" y="268.60" font-size="3.5" font-weight="bold" text-anchor="middle" fill="#1a1a1a" textLength="4.14" lengthAdjust="spacingAndGlyphs">250</text>
<line x1="29.70" y1="64.70" x2="29.70" y2="286.40" stroke="#6c78c2" stroke-width="0.5" />
<line x1="28.30" y1="101.50" x2="31.10" y2="101.50" stroke="#6c78c2" stroke-width="0.5" />
<line x1="28.30" y1="104.70" x2="31.10" y2="104.70" stroke="#6c78c2" stroke-width="0.5" />
<line x1="28.30" y1="108.00" x2="31.10" y2="108.00" stroke="#6c78c2" stroke-width="0.5" />
<line x1="28.30" y1="150.80" x2="31.10" y2="150.80" stroke="#6c78c2" stroke-width="0.5" />
<line x1="28.30" y1="153.00" x2="31.10" y2="153.00" stroke="#6c78c2" stroke-width="0.5" />
<line x1="28.30" y1="158.40" x2="31.10" y2="158.40" stroke="#6c78c2" stroke-width="0.5" />
<line x1="28.30" y1="196.70" x2="31.10" y2="196.70" stroke="#6c78c2" stroke-width="0.5" />
<line x1="28.30" y1="200.00" x2="31.10" y2="200.00" stroke="#6c78c2" stroke-width="0.5" />
<line x1="28.30" y1="203.40" x2="31.10" y2="203.40" stroke="#6c78c2" stroke-width="0.5" />
<line x1="28.30" y1="206.00" x2="31.10" y2="206.00" stroke="#6c78c2" stroke-width="0.5" />
<line x1="28.30" y1="246.00" x2="31.10" y2="246.00" stroke="#6c78c2" stroke-width="0.5" />
<line x1="28.30" y1="249.70" x2="31.10" y2="249.70" stroke="#6c78c2" stroke-width="0.5" />
<line x1="28.30" y1="253.00" x2="31.10" y2="253.00" stroke="#6c78c2" stroke-width="0.5" />
<line x1="28.30" y1="64.70" x2="31.10" y2="64.70" stroke="#6c78c2" stroke-width="0.5" />
<line x1="28.30" y1="286.40" x2="31.10" y2="286.40" stroke="#6c78c2" stroke-width="0.5" />
<text font-size="3.5" font-weight="bold" text-anchor="middle" fill="#1a1a1a" textLength="6.90" lengthAdjust="spacingAndGlyphs" transform="translate(29.10,85.00) rotate(-90)">260,5</text>
<text font-size="3.5" font-weight="bold" text-anchor="middle" fill="#1a1a1a" textLength="6.90" lengthAdjust="spacingAndGlyphs" transform="translate(29.10,130.00) rotate(-90)">3 780</text>
<text font-size="3.5" font-weight="bold" text-anchor="middle" fill="#1a1a1a" textLength="6.90" lengthAdjust="spacingAndGlyphs" transform="translate(29.10,177.50) rotate(-90)">2 400</text>
<text font-size="3.5" font-weight="bold" text-anchor="middle" fill="#1a1a1a" textLength="6.90" lengthAdjust="spacingAndGlyphs" transform="translate(29.10,226.00) rotate(-90)">3 700</text>
<text font-size="3.5" font-weight="bold" text-anchor="middle" fill="#1a1a1a" textLength="6.90" lengthAdjust="spacingAndGlyphs" transform="translate(29.10,268.00) rotate(-90)">284,5</text>
<line x1="21.50" y1="104.70" x2="21.50" y2="249.70" stroke="#6c78c2" stroke-width="0.5" />
<line x1="20.10" y1="150.80" x2="22.90" y2="150.80" stroke="#6c78c2" stroke-width="0.5" />
<line x1="20.10" y1="203.40" x2="22.90" y2="203.40" stroke="#6c78c2" stroke-width="0.5" />
<line x1="20.10" y1="104.70" x2="22.90" y2="104.70" stroke="#6c78c2" stroke-width="0.5" />
<line x1="20.10" y1="249.70" x2="22.90" y2="249.70" stroke="#6c78c2" stroke-width="0.5" />
<text font-size="3.5" font-weight="bold" text-anchor="middle" fill="#1a1a1a" textLength="6.90" lengthAdjust="spacingAndGlyphs" transform="translate(20.90,129.00) rotate(-90)">4 200</text>
<text font-size="3.5" font-weight="bold" text-anchor="middle" fill="#1a1a1a" textLength="6.90" lengthAdjust="spacingAndGlyphs" transform="translate(20.90,177.00) rotate(-90)">4 200</text>
<text font-size="3.5" font-weight="bold" text-anchor="middle" fill="#1a1a1a" textLength="6.90" lengthAdjust="spacingAndGlyphs" transform="translate(20.90,226.00) rotate(-90)">4 200</text>
<line x1="13.50" y1="104.70" x2="13.50" y2="249.70" stroke="#6c78c2" stroke-width="0.5" />
<line x1="12.10" y1="104.70" x2="14.90" y2="104.70" stroke="#6c78c2" stroke-width="0.5" />
<line x1="12.10" y1="249.70" x2="14.90" y2="249.70" stroke="#6c78c2" stroke-width="0.5" />
<line x1="374.40" y1="65.40" x2="374.40" y2="287.20" stroke="#6c78c2" stroke-width="0.5" />
<line x1="373.00" y1="96.40" x2="375.80" y2="96.40" stroke="#6c78c2" stroke-width="0.5" />
<line x1="373.00" y1="105.80" x2="375.80" y2="105.80" stroke="#6c78c2" stroke-width="0.5" />
<line x1="373.00" y1="113.80" x2="375.80" y2="113.80" stroke="#6c78c2" stroke-width="0.5" />
<line x1="373.00" y1="121.80" x2="375.80" y2="121.80" stroke="#6c78c2" stroke-width="0.5" />
<line x1="373.00" y1="131.90" x2="375.80" y2="131.90" stroke="#6c78c2" stroke-width="0.5" />
<line x1="373.00" y1="138.50" x2="375.80" y2="138.50" stroke="#6c78c2" stroke-width="0.5" />
<line x1="373.00" y1="143.80" x2="375.80" y2="143.80" stroke="#6c78c2" stroke-width="0.5" />
<line x1="373.00" y1="157.20" x2="375.80" y2="157.20" stroke="#6c78c2" stroke-width="0.5" />
<line x1="373.00" y1="166.60" x2="375.80" y2="166.60" stroke="#6c78c2" stroke-width="0.5" />
<line x1="373.00" y1="219.00" x2="375.80" y2="219.00" stroke="#6c78c2" stroke-width="0.5" />
<line x1="373.00" y1="230.60" x2="375.80" y2="230.60" stroke="#6c78c2" stroke-width="0.5" />
<line x1="373.00" y1="65.40" x2="375.80" y2="65.40" stroke="#6c78c2" stroke-width="0.5" />
<line x1="373.00" y1="287.20" x2="375.80" y2="287.20" stroke="#6c78c2" stroke-width="0.5" />
<text font-size="3.5" font-weight="bold" text-anchor="middle" fill="#1a1a1a" textLength="6.90" lengthAdjust="spacingAndGlyphs" transform="translate(373.80,81.00) rotate(-90)">2 180</text>
<text font-size="3.5" font-weight="bold" text-anchor="middle" fill="#1a1a1a" textLength="4.14" lengthAdjust="spacingAndGlyphs" transform="translate(373.80,101.00) rotate(-90)">900</text>
<text font-size="3.5" font-weight="bold" text-anchor="middle" fill="#1a1a1a" textLength="6.90" lengthAdjust="spacingAndGlyphs" transform="translate(373.80,118.00) rotate(-90)">1 000</text>
<text font-size="3.5" font-weight="bold" text-anchor="middle" fill="#1a1a1a" textLength="6.90" lengthAdjust="spacingAndGlyphs" transform="translate(373.80,127.50) rotate(-90)">1 200</text>
<text font-size="3.5" font-weight="bold" text-anchor="middle" fill="#1a1a1a" textLength="6.90" lengthAdjust="spacingAndGlyphs" transform="translate(373.80,150.00) rotate(-90)">1 000</text>
<text font-size="3.5" font-weight="bold" text-anchor="middle" fill="#1a1a1a" textLength="6.90" lengthAdjust="spacingAndGlyphs" transform="translate(373.80,193.00) rotate(-90)">4 650</text>
<text font-size="3.5" font-weight="bold" text-anchor="middle" fill="#1a1a1a" textLength="6.90" lengthAdjust="spacingAndGlyphs" transform="translate(373.80,225.00) rotate(-90)">1 200</text>
<text font-size="3.5" font-weight="bold" text-anchor="middle" fill="#1a1a1a" textLength="6.90" lengthAdjust="spacingAndGlyphs" transform="translate(373.80,258.00) rotate(-90)">4 650</text>
<line x1="143.20" y1="295.50" x2="357.60" y2="295.50" stroke="#6c78c2" stroke-width="0.5" />
<line x1="159.20" y1="294.10" x2="159.20" y2="296.90" stroke="#6c78c2" stroke-width="0.5" />
<line x1="164.50" y1="294.10" x2="164.50" y2="296.90" stroke="#6c78c2" stroke-width="0.5" />
<line x1="200.60" y1="294.10" x2="200.60" y2="296.90" stroke="#6c78c2" stroke-width="0.5" />
<line x1="205.90" y1="294.10" x2="205.90" y2="296.90" stroke="#6c78c2" stroke-width="0.5" />
<line x1="213.80" y1="294.10" x2="213.80" y2="296.90" stroke="#6c78c2" stroke-width="0.5" />
<line x1="231.80" y1="294.10" x2="231.80" y2="296.90" stroke="#6c78c2" stroke-width="0.5" />
<line x1="271.80" y1="294.10" x2="271.80" y2="296.90" stroke="#6c78c2" stroke-width="0.5" />
<line x1="286.90" y1="294.10" x2="286.90" y2="296.90" stroke="#6c78c2" stroke-width="0.5" />
<line x1="297.30" y1="294.10" x2="297.30" y2="296.90" stroke="#6c78c2" stroke-width="0.5" />
<line x1="302.00" y1="294.10" x2="302.00" y2="296.90" stroke="#6c78c2" stroke-width="0.5" />
<line x1="337.00" y1="294.10" x2="337.00" y2="296.90" stroke="#6c78c2" stroke-width="0.5" />
<line x1="341.60" y1="294.10" x2="341.60" y2="296.90" stroke="#6c78c2" stroke-width="0.5" />
<line x1="143.20" y1="294.10" x2="143.20" y2="296.90" stroke="#6c78c2" stroke-width="0.5" />
<line x1="357.60" y1="294.10" x2="357.60" y2="296.90" stroke="#6c78c2" stroke-width="0.5" />
<text x="139.50" y="294.90" font-size="3.5" font-weight="bold" text-anchor="middle" fill="#1a1a1a" textLength="6.90" lengthAdjust="spacingAndGlyphs">1 400</text>
<text x="156.50" y="294.90" font-size="3.5" font-weight="bold" text-anchor="middle" fill="#1a1a1a" textLength="4.14" lengthAdjust="spacingAndGlyphs">380</text>
<text x="182.00" y="294.90" font-size="3.5" font-weight="bold" text-anchor="middle" fill="#1a1a1a" textLength="6.90" lengthAdjust="spacingAndGlyphs">3 240</text>
<text x="199.30" y="294.90" font-size="3.5" font-weight="bold" text-anchor="middle" fill="#1a1a1a" textLength="4.14" lengthAdjust="spacingAndGlyphs">380</text>
<text x="222.00" y="294.90" font-size="3.5" font-weight="bold" text-anchor="middle" fill="#1a1a1a" textLength="6.90" lengthAdjust="spacingAndGlyphs">2 350</text>
<text x="251.00" y="294.90" font-size="3.5" font-weight="bold" text-anchor="middle" fill="#1a1a1a" textLength="6.90" lengthAdjust="spacingAndGlyphs">3 240</text>
<text x="267.50" y="294.90" font-size="3.5" font-weight="bold" text-anchor="middle" fill="#1a1a1a" textLength="4.14" lengthAdjust="spacingAndGlyphs">150</text>
<text x="281.50" y="294.90" font-size="3.5" font-weight="bold" text-anchor="middle" fill="#1a1a1a" textLength="6.90" lengthAdjust="spacingAndGlyphs">2 270</text>
<text x="294.00" y="294.90" font-size="3.5" font-weight="bold" text-anchor="middle" fill="#1a1a1a" textLength="4.14" lengthAdjust="spacingAndGlyphs">380</text>
<text x="319.00" y="294.90" font-size="3.5" font-weight="bold" text-anchor="middle" fill="#1a1a1a" textLength="6.90" lengthAdjust="spacingAndGlyphs">3 240</text>
<text x="335.70" y="294.90" font-size="3.5" font-weight="bold" text-anchor="middle" fill="#1a1a1a" textLength="4.14" lengthAdjust="spacingAndGlyphs">380</text>
<text x="349.30" y="294.90" font-size="3.5" font-weight="bold" text-anchor="middle" fill="#1a1a1a" textLength="6.90" lengthAdjust="spacingAndGlyphs">1 300</text>
<line x1="143.20" y1="303.50" x2="357.60" y2="303.50" stroke="#6c78c2" stroke-width="0.5" />
<line x1="213.80" y1="302.10" x2="213.80" y2="304.90" stroke="#6c78c2" stroke-width="0.5" />
<line x1="286.90" y1="302.10" x2="286.90" y2="304.90" stroke="#6c78c2" stroke-width="0.5" />
<line x1="143.20" y1="302.10" x2="143.20" y2="304.90" stroke="#6c78c2" stroke-width="0.5" />
<line x1="357.60" y1="302.10" x2="357.60" y2="304.90" stroke="#6c78c2" stroke-width="0.5" />
<text x="178.00" y="302.90" font-size="3.5" font-weight="bold" text-anchor="middle" fill="#1a1a1a" textLength="6.90" lengthAdjust="spacingAndGlyphs">6 150</text>
<text x="250.00" y="302.90" font-size="3.5" font-weight="bold" text-anchor="middle" fill="#1a1a1a" textLength="6.90" lengthAdjust="spacingAndGlyphs">6 400</text>
<text x="322.00" y="302.90" font-size="3.5" font-weight="bold" text-anchor="middle" fill="#1a1a1a" textLength="6.90" lengthAdjust="spacingAndGlyphs">6 100</text>
<line x1="143.20" y1="309.20" x2="357.60" y2="309.20" stroke="#6c78c2" stroke-width="0.5" />
<line x1="213.80" y1="307.80" x2="213.80" y2="310.60" stroke="#6c78c2" stroke-width="0.5" />
<line x1="286.90" y1="307.80" x2="286.90" y2="310.60" stroke="#6c78c2" stroke-width="0.5" />
<line x1="143.20" y1="307.80" x2="143.20" y2="310.60" stroke="#6c78c2" stroke-width="0.5" />
<line x1="357.60" y1="307.80" x2="357.60" y2="310.60" stroke="#6c78c2" stroke-width="0.5" />
<line x1="143.50" y1="287.00" x2="143.50" y2="312.30" stroke="#555" stroke-width="0.45" stroke-dasharray="2 1.4" />
<line x1="143.50" y1="293.70" x2="143.50" y2="296.50" stroke="#a04040" stroke-width="0.5" />
<line x1="213.80" y1="287.00" x2="213.80" y2="312.30" stroke="#555" stroke-width="0.45" stroke-dasharray="2 1.4" />
<line x1="213.80" y1="293.70" x2="213.80" y2="296.50" stroke="#a04040" stroke-width="0.5" />
<line x1="286.90" y1="287.00" x2="286.90" y2="312.30" stroke="#555" stroke-width="0.45" stroke-dasharray="2 1.4" />
<line x1="286.90" y1="293.70" x2="286.90" y2="296.50" stroke="#a04040" stroke-width="0.5" />
<line x1="357.00" y1="287.00" x2="357.00" y2="312.30" stroke="#555" stroke-width="0.45" stroke-dasharray="2 1.4" />
<line x1="357.00" y1="293.70" x2="357.00" y2="296.50" stroke="#a04040" stroke-width="0.5" />
<circle cx="50.60" cy="52.50" r="4.6" fill="#fff" stroke="#222" stroke-width="0.7"/>
<text x="50.60" y="54.65" font-size="6.0" text-anchor="middle" fill="#111" style="font-weight:bold" >1’</text>
<circle cx="139.00" cy="52.50" r="4.6" fill="#fff" stroke="#222" stroke-width="0.7"/>
<text x="139.00" y="54.65" font-size="6.0" text-anchor="middle" fill="#111" style="font-weight:bold" >2’</text>
<circle cx="5.70" cy="104.70" r="4.6" fill="#fff" stroke="#222" stroke-width="0.7"/>
<text x="5.70" y="106.85" font-size="6.0" text-anchor="middle" fill="#111" style="font-weight:bold" >А</text>
<circle cx="5.70" cy="150.80" r="4.6" fill="#fff" stroke="#222" stroke-width="0.7"/>
<text x="5.70" y="152.95" font-size="6.0" text-anchor="middle" fill="#111" style="font-weight:bold" >Б</text>
<circle cx="5.70" cy="203.40" r="4.6" fill="#fff" stroke="#222" stroke-width="0.7"/>
<text x="5.70" y="205.55" font-size="6.0" text-anchor="middle" fill="#111" style="font-weight:bold" >В</text>
<circle cx="5.60" cy="249.70" r="4.6" fill="#fff" stroke="#222" stroke-width="0.7"/>
<text x="5.60" y="251.85" font-size="6.0" text-anchor="middle" fill="#111" style="font-weight:bold" >Г</text>
<circle cx="143.50" cy="317.00" r="4.6" fill="#fff" stroke="#222" stroke-width="0.7"/>
<text x="143.50" y="319.15" font-size="6.0" text-anchor="middle" fill="#111" style="font-weight:bold" >1</text>
<circle cx="213.80" cy="317.00" r="4.6" fill="#fff" stroke="#222" stroke-width="0.7"/>
<text x="213.80" y="319.15" font-size="6.0" text-anchor="middle" fill="#111" style="font-weight:bold" >2</text>
<circle cx="287.00" cy="317.00" r="4.6" fill="#fff" stroke="#222" stroke-width="0.7"/>
<text x="287.00" y="319.15" font-size="6.0" text-anchor="middle" fill="#111" style="font-weight:bold" >3</text>
<circle cx="356.80" cy="317.00" r="4.6" fill="#fff" stroke="#222" stroke-width="0.7"/>
<text x="356.80" y="319.15" font-size="6.0" text-anchor="middle" fill="#111" style="font-weight:bold" >4</text>
<text x="95.20" y="59.80" font-size="8.8" text-anchor="middle" fill="#000" style="font-style:italic" stroke="#000" stroke-width="0.12" textLength="19.5" lengthAdjust="spacingAndGlyphs">7 800</text>
<text x="250.50" y="315.20" font-size="8.8" text-anchor="middle" fill="#000" style="font-style:italic" stroke="#000" stroke-width="0.12" textLength="23" lengthAdjust="spacingAndGlyphs">18 650</text>
<text font-size="8.8" text-anchor="middle" fill="#000" stroke="#000" stroke-width="0.12" style="font-style:italic" textLength="23" lengthAdjust="spacingAndGlyphs" transform="translate(12.2,179) rotate(-90)">12 600</text>
</g>
<g id="plan2" filter="url(#soft)">
<rect x="490.60" y="93.70" width="92.00" height="153.50" fill="url(#h2)" stroke="#444" stroke-width="0.6" />
<rect x="495.00" y="98.20" width="87.60" height="144.80" fill="#f8c9a9" />
<polyline points="582.60,98.20 495.00,98.20 495.00,243.00 582.60,243.00" fill="none" stroke="#444" stroke-width="0.55" />
<line x1="490.60" y1="93.70" x2="495.00" y2="98.20" stroke="#666" stroke-width="0.4" />
<line x1="490.60" y1="247.20" x2="495.00" y2="243.00" stroke="#666" stroke-width="0.4" />
<line x1="527.00" y1="142.50" x2="553.50" y2="142.50" stroke="#444" stroke-width="0.7" />
<polygon points="525.20,142.50 529.40,140.90 529.40,144.10" fill="#444" />
<line x1="527.00" y1="198.70" x2="553.50" y2="198.70" stroke="#444" stroke-width="0.7" />
<polygon points="525.20,198.70 529.40,197.10 529.40,200.30" fill="#444" />
<path d="M496 99.5 q1.5 4 4.5 4.5" fill="none" stroke="#222" stroke-width="0.6"/>
<line x1="499.00" y1="104.00" x2="504.00" y2="104.00" stroke="#555" stroke-width="0.35" />
<text font-size="2.6" fill="#333" transform="translate(502.6,112.5) rotate(-90)">ВЛ-1</text>
<path d="M496 241.5 q0.8 -4.5 4 -5.8" fill="none" stroke="#222" stroke-width="0.6"/>
<line x1="500.00" y1="236.60" x2="505.00" y2="236.60" stroke="#555" stroke-width="0.35" />
<text font-size="2.6" fill="#333" transform="translate(503,243) rotate(-90)">ВЛ</text>
<polygon points="485.40,89.00 488.60,88.20 487.60,91.00" fill="#222" />
<line x1="487.00" y1="89.50" x2="493.00" y2="89.50" stroke="#666" stroke-width="0.35" />
<rect x="487.60" y="91.50" width="2.20" height="5.90" fill="#555" />
<polygon points="485.80,252.00 489.00,251.00 488.00,253.80" fill="#222" />
<line x1="487.00" y1="251.60" x2="493.50" y2="251.60" stroke="#666" stroke-width="0.35" />
<text font-size="2.6" fill="#222" transform="translate(489.9,260) rotate(-90)">ВВГ1</text>
<line x1="457.20" y1="100.10" x2="490.40" y2="100.10" stroke="#555" stroke-width="0.5" stroke-dasharray="2.2 1.4" />
<line x1="457.20" y1="145.00" x2="490.40" y2="145.00" stroke="#555" stroke-width="0.5" stroke-dasharray="2.2 1.4" />
<line x1="457.20" y1="196.40" x2="490.40" y2="196.40" stroke="#555" stroke-width="0.5" stroke-dasharray="2.2 1.4" />
<line x1="457.20" y1="241.70" x2="490.40" y2="241.70" stroke="#555" stroke-width="0.5" stroke-dasharray="2.2 1.4" />
<line x1="497.60" y1="54.60" x2="497.60" y2="93.40" stroke="#444" stroke-width="0.55" stroke-dasharray="2.4 1.5" />
<line x1="460.40" y1="100.10" x2="460.40" y2="241.70" stroke="#777" stroke-width="0.45" stroke-dasharray="3 1 0.6 1" />
<line x1="467.60" y1="100.10" x2="467.60" y2="241.70" stroke="#777" stroke-width="0.45" stroke-dasharray="3 1 0.6 1" />
<line x1="475.90" y1="93.70" x2="475.90" y2="247.50" stroke="#777" stroke-width="0.45" stroke-dasharray="3 1 0.6 1" />
<text font-size="3.5" font-weight="bold" text-anchor="middle" fill="#1a1a1a" textLength="6.90" lengthAdjust="spacingAndGlyphs" transform="translate(470.00,122.00) rotate(-90)">4 200</text>
<text font-size="3.5" font-weight="bold" text-anchor="middle" fill="#1a1a1a" textLength="8.28" lengthAdjust="spacingAndGlyphs" transform="translate(478.00,170.00) rotate(-90)">12 600</text>
<text font-size="3.5" font-weight="bold" text-anchor="middle" fill="#1a1a1a" textLength="6.90" lengthAdjust="spacingAndGlyphs" transform="translate(470.00,173.00) rotate(-90)">4 200</text>
<text font-size="3.5" font-weight="bold" text-anchor="middle" fill="#1a1a1a" textLength="6.90" lengthAdjust="spacingAndGlyphs" transform="translate(470.00,224.00) rotate(-90)">4 200</text>
<text font-size="3.5" font-weight="bold" text-anchor="middle" fill="#1a1a1a" textLength="4.14" lengthAdjust="spacingAndGlyphs" transform="translate(478.00,95.00) rotate(-90)">250</text>
<text font-size="3.5" font-weight="bold" text-anchor="middle" fill="#1a1a1a" textLength="4.14" lengthAdjust="spacingAndGlyphs" transform="translate(478.00,244.00) rotate(-90)">250</text>
<line x1="497.60" y1="57.20" x2="582.60" y2="57.20" stroke="#888" stroke-width="0.45" stroke-dasharray="3 1 0.6 1" />
<line x1="497.60" y1="65.00" x2="582.60" y2="65.00" stroke="#999" stroke-width="0.4" stroke-dasharray="3 1 0.6 1" />
<line x1="493.00" y1="73.00" x2="582.60" y2="73.00" stroke="#999" stroke-width="0.4" stroke-dasharray="3 1 0.6 1" />
<text x="540.70" y="64.60" font-size="3.5" font-weight="bold" text-anchor="middle" fill="#1a1a1a" textLength="6.90" lengthAdjust="spacingAndGlyphs">7 800</text>
<text x="541.50" y="72.60" font-size="3.5" font-weight="bold" text-anchor="middle" fill="#1a1a1a" textLength="6.90" lengthAdjust="spacingAndGlyphs">8 380</text>
<text x="488.50" y="72.60" font-size="3.5" font-weight="bold" text-anchor="middle" fill="#1a1a1a" textLength="4.14" lengthAdjust="spacingAndGlyphs">480</text>
<line x1="492.00" y1="260.90" x2="582.60" y2="260.90" stroke="#999" stroke-width="0.4" stroke-dasharray="3 1 0.6 1" />
<text x="541.50" y="260.50" font-size="3.5" font-weight="bold" text-anchor="middle" fill="#1a1a1a" textLength="6.90" lengthAdjust="spacingAndGlyphs">8 380</text>
<text x="495.00" y="260.60" font-size="3.5" font-weight="bold" text-anchor="middle" fill="#1a1a1a" textLength="4.14" lengthAdjust="spacingAndGlyphs">480</text>
<polygon points="582.60,60.00 658.10,60.00 658.10,55.40 710.00,55.40 710.00,60.00 790.80,60.00 790.80,274.20 582.60,274.20" fill="url(#h)" stroke="#2e2e2e" stroke-width="0.65" />
<rect x="586.80" y="64.70" width="64.50" height="61.50" fill="#d9edd6" />
<rect x="654.80" y="64.70" width="63.60" height="61.50" fill="#f5acd3" />
<rect x="721.70" y="64.70" width="64.70" height="61.50" fill="#dce9a2" />
<rect x="588.40" y="136.40" width="62.20" height="132.10" fill="#f2f0a5" />
<rect x="655.40" y="136.40" width="63.10" height="72.90" fill="#dadada" />
<rect x="655.90" y="213.50" width="62.60" height="55.00" fill="#cca0d3" />
<rect x="722.90" y="136.00" width="62.50" height="132.50" fill="#fbd9bc" />
<rect x="663.40" y="59.80" width="40.90" height="5.20" fill="#f5acd3" />
<rect x="586.80" y="64.70" width="64.50" height="61.50" fill="none" stroke="#484848" stroke-width="0.5" />
<rect x="721.70" y="64.70" width="64.70" height="61.50" fill="none" stroke="#484848" stroke-width="0.5" />
<rect x="588.40" y="136.40" width="62.20" height="132.10" fill="none" stroke="#484848" stroke-width="0.5" />
<rect x="655.40" y="136.40" width="63.10" height="72.90" fill="none" stroke="#484848" stroke-width="0.5" />
<rect x="655.90" y="213.50" width="62.60" height="55.00" fill="none" stroke="#484848" stroke-width="0.5" />
<rect x="722.90" y="136.00" width="62.50" height="132.50" fill="none" stroke="#484848" stroke-width="0.5" />
<polyline points="663.40,60.00 663.40,64.70 654.80,64.70 654.80,126.20 718.40,126.20 718.40,64.70 704.30,64.70 704.30,60.00" fill="none" stroke="#484848" stroke-width="0.5" />
<line x1="582.60" y1="131.00" x2="790.80" y2="131.00" stroke="#333" stroke-width="0.55" />
<rect x="594.50" y="128.00" width="2.00" height="1.80" fill="#223" />
<rect x="597.60" y="128.00" width="2.00" height="1.80" fill="#223" />
<rect x="600.70" y="128.00" width="2.00" height="1.80" fill="#223" />
<rect x="768.00" y="127.90" width="2.00" height="1.80" fill="#223" />
<rect x="771.20" y="127.90" width="2.00" height="1.80" fill="#223" />
<rect x="774.40" y="127.90" width="2.00" height="1.80" fill="#223" />
<rect x="777.60" y="127.90" width="2.00" height="1.80" fill="#223" />
<rect x="780.80" y="127.90" width="2.00" height="1.80" fill="#223" />
<rect x="600.90" y="60.00" width="35.80" height="4.70" fill="#fff" />
<rect x="600.90" y="60.20" width="35.80" height="1.68" fill="#d2d2d2" />
<line x1="600.90" y1="60.30" x2="636.70" y2="60.30" stroke="#777" stroke-width="0.5" />
<line x1="600.90" y1="62.35" x2="636.70" y2="62.35" stroke="#888" stroke-width="0.4" />
<line x1="600.90" y1="64.40" x2="636.70" y2="64.40" stroke="#666" stroke-width="0.5" />
<rect x="735.00" y="60.00" width="36.80" height="4.70" fill="#fff" />
<rect x="735.00" y="60.20" width="36.80" height="1.68" fill="#d2d2d2" />
<line x1="735.00" y1="60.30" x2="771.80" y2="60.30" stroke="#777" stroke-width="0.5" />
<line x1="735.00" y1="62.35" x2="771.80" y2="62.35" stroke="#888" stroke-width="0.4" />
<line x1="735.00" y1="64.40" x2="771.80" y2="64.40" stroke="#666" stroke-width="0.5" />
<rect x="663.40" y="55.40" width="40.90" height="4.60" fill="#fff" />
<rect x="663.40" y="55.60" width="40.90" height="1.64" fill="#d2d2d2" />
<line x1="663.40" y1="55.70" x2="704.30" y2="55.70" stroke="#777" stroke-width="0.5" />
<line x1="663.40" y1="57.70" x2="704.30" y2="57.70" stroke="#888" stroke-width="0.4" />
<line x1="663.40" y1="59.70" x2="704.30" y2="59.70" stroke="#666" stroke-width="0.5" />
<rect x="606.70" y="125.90" width="32.00" height="10.80" fill="#fff" />
<rect x="673.80" y="125.90" width="32.20" height="10.80" fill="#fff" />
<rect x="730.50" y="125.90" width="17.10" height="10.80" fill="#fff" />
<rect x="601.70" y="131.00" width="5.00" height="5.40" fill="url(#ck)" stroke="#222" stroke-width="0.4" />
<rect x="638.70" y="131.00" width="5.00" height="5.40" fill="url(#ck)" stroke="#222" stroke-width="0.4" />
<rect x="668.80" y="131.00" width="5.00" height="5.40" fill="url(#ck)" stroke="#222" stroke-width="0.4" />
<rect x="706.00" y="131.00" width="5.00" height="5.40" fill="url(#ck)" stroke="#222" stroke-width="0.4" />
<rect x="747.60" y="126.50" width="2.40" height="4.50" fill="url(#ck)" stroke="#222" stroke-width="0.3" />
<line x1="675.80" y1="133.00" x2="704.00" y2="133.00" stroke="#666" stroke-width="0.45" />
<line x1="678.80" y1="133.80" x2="686.40" y2="126.00" stroke="#333" stroke-width="0.75" />
<line x1="701.00" y1="133.80" x2="693.40" y2="126.00" stroke="#333" stroke-width="0.75" />
<circle cx="695.50" cy="136.60" r="1.7" fill="#999" stroke="#222" stroke-width="0.8"/>
<line x1="731.00" y1="131.20" x2="736.00" y2="138.20" stroke="#333" stroke-width="0.7" />
<line x1="747.00" y1="131.20" x2="742.00" y2="138.20" stroke="#333" stroke-width="0.7" />
<line x1="733.00" y1="131.00" x2="745.00" y2="131.00" stroke="#888" stroke-width="0.4" />
<rect x="661.80" y="209.10" width="50.90" height="4.60" fill="#fff" />
<line x1="661.80" y1="211.40" x2="712.70" y2="211.40" stroke="#555" stroke-width="0.5" stroke-dasharray="1.6 1.2" />
<text x="686.00" y="212.30" font-size="2.6" font-weight="bold" text-anchor="middle" fill="#1a1a1a" textLength="5.52" lengthAdjust="spacingAndGlyphs">арка</text>
<rect x="651.00" y="110.10" width="4.00" height="16.30" fill="#f4f0f2" />
<circle cx="653.00" cy="117.80" r="1.8" fill="#eee" stroke="#333" stroke-width="0.45"/>
<line x1="646.50" y1="116.50" x2="651.50" y2="122.50" stroke="#555" stroke-width="0.4" />
<rect x="718.20" y="109.30" width="3.80" height="17.10" fill="#f4f0f2" />
<circle cx="720.00" cy="117.80" r="1.8" fill="#eee" stroke="#333" stroke-width="0.45"/>
<line x1="715.00" y1="116.50" x2="719.50" y2="122.50" stroke="#555" stroke-width="0.4" />
<rect x="718.20" y="146.70" width="4.90" height="13.30" fill="#fff" />
<circle cx="720.60" cy="156.30" r="1.8" fill="#eee" stroke="#333" stroke-width="0.45"/>
<line x1="714.00" y1="150.00" x2="719.00" y2="155.00" stroke="#555" stroke-width="0.4" />
<rect x="718.30" y="217.00" width="4.80" height="12.80" fill="#fff" />
<circle cx="720.30" cy="224.00" r="1.7" fill="#eee" stroke="#333" stroke-width="0.45"/>
<line x1="713.50" y1="220.50" x2="718.50" y2="226.00" stroke="#555" stroke-width="0.4" />
<rect x="650.40" y="244.20" width="5.20" height="13.40" fill="#fff" />
<circle cx="653.00" cy="250.30" r="1.7" fill="#eee" stroke="#333" stroke-width="0.45"/>
<line x1="656.00" y1="246.00" x2="661.00" y2="251.30" stroke="#555" stroke-width="0.4" />
<rect x="786.60" y="112.60" width="4.60" height="12.50" fill="#fff" />
<line x1="786.90" y1="112.60" x2="786.90" y2="125.10" stroke="#888" stroke-width="0.5" />
<line x1="790.90" y1="112.60" x2="790.90" y2="125.10" stroke="#777" stroke-width="0.5" />
<rect x="785.20" y="147.50" width="6.00" height="10.90" fill="#fff" />
<circle cx="788.00" cy="155.50" r="1.7" fill="#eee" stroke="#333" stroke-width="0.45"/>
<rect x="785.60" y="209.30" width="5.60" height="10.80" fill="#fff" />
<line x1="785.90" y1="209.30" x2="785.90" y2="220.10" stroke="#888" stroke-width="0.5" />
<line x1="790.90" y1="209.30" x2="790.90" y2="220.10" stroke="#777" stroke-width="0.5" />
<rect x="598.40" y="268.50" width="45.00" height="5.70" fill="#fff" />
<rect x="598.40" y="271.92" width="45.00" height="2.08" fill="#d2d2d2" />
<line x1="598.40" y1="268.80" x2="643.40" y2="268.80" stroke="#777" stroke-width="0.5" />
<line x1="598.40" y1="271.35" x2="643.40" y2="271.35" stroke="#888" stroke-width="0.4" />
<line x1="598.40" y1="273.90" x2="643.40" y2="273.90" stroke="#666" stroke-width="0.5" />
<rect x="598.40" y="268.80" width="5.00" height="5.20" fill="url(#ck)" stroke="#222" stroke-width="0.4" />
<rect x="638.40" y="268.80" width="5.00" height="5.20" fill="url(#ck)" stroke="#222" stroke-width="0.4" />
<rect x="669.80" y="268.50" width="38.70" height="5.70" fill="#fff" />
<rect x="669.80" y="271.92" width="38.70" height="2.08" fill="#d2d2d2" />
<line x1="669.80" y1="268.80" x2="708.50" y2="268.80" stroke="#777" stroke-width="0.5" />
<line x1="669.80" y1="271.35" x2="708.50" y2="271.35" stroke="#888" stroke-width="0.4" />
<line x1="669.80" y1="273.90" x2="708.50" y2="273.90" stroke="#666" stroke-width="0.5" />
<rect x="705.50" y="268.80" width="3.00" height="5.20" fill="url(#ck)" stroke="#222" stroke-width="0.4" />
<rect x="731.60" y="268.50" width="45.80" height="5.70" fill="#fff" />
<rect x="731.60" y="271.92" width="45.80" height="2.08" fill="#d2d2d2" />
<line x1="731.60" y1="268.80" x2="777.40" y2="268.80" stroke="#777" stroke-width="0.5" />
<line x1="731.60" y1="271.35" x2="777.40" y2="271.35" stroke="#888" stroke-width="0.4" />
<line x1="731.60" y1="273.90" x2="777.40" y2="273.90" stroke="#666" stroke-width="0.5" />
<rect x="731.60" y="268.80" width="4.80" height="5.20" fill="url(#ck)" stroke="#222" stroke-width="0.4" />
<rect x="772.60" y="268.80" width="4.80" height="5.20" fill="url(#ck)" stroke="#222" stroke-width="0.4" />
<rect x="625.80" y="269.00" width="1.80" height="4.90" fill="#888" />
<rect x="692.10" y="269.00" width="1.80" height="4.90" fill="#888" />
<rect x="752.20" y="269.00" width="1.80" height="4.90" fill="#888" />
<rect x="727.50" y="70.00" width="12.50" height="14.50" fill="none" stroke="#665" stroke-width="0.4" />
<rect x="735.00" y="76.00" width="12.60" height="30.80" fill="none" stroke="#665" stroke-width="0.4" />
<line x1="735.00" y1="78.50" x2="747.60" y2="78.50" stroke="#776" stroke-width="0.35" />
<line x1="735.00" y1="81.10" x2="747.60" y2="81.10" stroke="#776" stroke-width="0.35" />
<line x1="735.00" y1="83.70" x2="747.60" y2="83.70" stroke="#776" stroke-width="0.35" />
<line x1="735.00" y1="86.30" x2="747.60" y2="86.30" stroke="#776" stroke-width="0.35" />
<line x1="735.00" y1="88.90" x2="747.60" y2="88.90" stroke="#776" stroke-width="0.35" />
<line x1="735.00" y1="91.50" x2="747.60" y2="91.50" stroke="#776" stroke-width="0.35" />
<line x1="735.00" y1="94.10" x2="747.60" y2="94.10" stroke="#776" stroke-width="0.35" />
<line x1="735.00" y1="96.70" x2="747.60" y2="96.70" stroke="#776" stroke-width="0.35" />
<line x1="735.00" y1="99.30" x2="747.60" y2="99.30" stroke="#776" stroke-width="0.35" />
<line x1="735.00" y1="101.90" x2="747.60" y2="101.90" stroke="#776" stroke-width="0.35" />
<line x1="735.00" y1="104.50" x2="747.60" y2="104.50" stroke="#776" stroke-width="0.35" />
<line x1="727.50" y1="73.00" x2="735.00" y2="73.00" stroke="#776" stroke-width="0.35" />
<line x1="727.50" y1="75.80" x2="735.00" y2="75.80" stroke="#776" stroke-width="0.35" />
<line x1="727.50" y1="78.60" x2="735.00" y2="78.60" stroke="#776" stroke-width="0.35" />
<line x1="727.50" y1="81.40" x2="735.00" y2="81.40" stroke="#776" stroke-width="0.35" />
<line x1="727.50" y1="84.50" x2="735.00" y2="93.00" stroke="#665" stroke-width="0.4" />
<line x1="734.20" y1="76.00" x2="734.20" y2="90.00" stroke="#887" stroke-width="0.35" />
<rect x="790.80" y="147.50" width="9.30" height="10.00" fill="#fff" stroke="#666" stroke-width="0.4" />
<polyline points="790.80,157.50 800.10,157.50 800.10,193.40 790.80,186.00" fill="none" stroke="#666" stroke-width="0.45" />
<line x1="790.80" y1="159.80" x2="800.10" y2="159.80" stroke="#777" stroke-width="0.35" />
<line x1="790.80" y1="162.10" x2="800.10" y2="162.10" stroke="#777" stroke-width="0.35" />
<line x1="790.80" y1="164.40" x2="800.10" y2="164.40" stroke="#777" stroke-width="0.35" />
<line x1="790.80" y1="166.70" x2="800.10" y2="166.70" stroke="#777" stroke-width="0.35" />
<line x1="790.80" y1="169.00" x2="800.10" y2="169.00" stroke="#777" stroke-width="0.35" />
<line x1="790.80" y1="171.30" x2="800.10" y2="171.30" stroke="#777" stroke-width="0.35" />
<line x1="790.80" y1="173.60" x2="800.10" y2="173.60" stroke="#777" stroke-width="0.35" />
<line x1="790.80" y1="175.90" x2="800.10" y2="175.90" stroke="#777" stroke-width="0.35" />
<line x1="790.80" y1="178.20" x2="800.10" y2="178.20" stroke="#777" stroke-width="0.35" />
<line x1="790.80" y1="180.50" x2="800.10" y2="180.50" stroke="#777" stroke-width="0.35" />
<line x1="790.80" y1="182.80" x2="800.10" y2="182.80" stroke="#777" stroke-width="0.35" />
<line x1="790.80" y1="185.10" x2="800.10" y2="185.10" stroke="#777" stroke-width="0.35" />
<line x1="790.80" y1="187.40" x2="800.10" y2="187.40" stroke="#777" stroke-width="0.35" />
<line x1="582.60" y1="101.40" x2="790.80" y2="101.40" stroke="#666a9c" stroke-width="0.36" />
<line x1="722.00" y1="84.20" x2="786.40" y2="84.20" stroke="#666a9c" stroke-width="0.36" />
<line x1="582.60" y1="153.40" x2="797.00" y2="153.40" stroke="#666a9c" stroke-width="0.36" />
<line x1="582.60" y1="234.70" x2="790.80" y2="234.70" stroke="#666a9c" stroke-width="0.36" />
<line x1="626.70" y1="60.00" x2="626.70" y2="272.50" stroke="#666a9c" stroke-width="0.36" />
<line x1="693.00" y1="56.00" x2="693.00" y2="272.50" stroke="#666a9c" stroke-width="0.36" />
<line x1="753.10" y1="58.00" x2="753.10" y2="272.50" stroke="#666a9c" stroke-width="0.36" />
<text x="597.50" y="100.90" font-size="3.5" font-weight="bold" text-anchor="middle" fill="#1a1a1a" textLength="6.90" lengthAdjust="spacingAndGlyphs">1 755</text>
<text x="626.00" y="100.90" font-size="3.5" font-weight="bold" text-anchor="middle" fill="#1a1a1a" textLength="6.90" lengthAdjust="spacingAndGlyphs">2 890</text>
<text x="644.50" y="100.90" font-size="3.5" font-weight="bold" text-anchor="middle" fill="#1a1a1a" textLength="6.90" lengthAdjust="spacingAndGlyphs">1 155</text>
<text x="657.50" y="100.90" font-size="3.5" font-weight="bold" text-anchor="middle" fill="#1a1a1a" textLength="4.14" lengthAdjust="spacingAndGlyphs">250</text>
<text x="666.00" y="100.90" font-size="3.5" font-weight="bold" text-anchor="middle" fill="#1a1a1a" textLength="6.90" lengthAdjust="spacingAndGlyphs">1 755</text>
<text x="693.00" y="100.90" font-size="3.5" font-weight="bold" text-anchor="middle" fill="#1a1a1a" textLength="6.90" lengthAdjust="spacingAndGlyphs">2 890</text>
<text x="712.00" y="100.90" font-size="3.5" font-weight="bold" text-anchor="middle" fill="#1a1a1a" textLength="6.90" lengthAdjust="spacingAndGlyphs">1 155</text>
<text x="725.00" y="100.90" font-size="3.5" font-weight="bold" text-anchor="middle" fill="#1a1a1a" textLength="4.14" lengthAdjust="spacingAndGlyphs">250</text>
<text x="760.50" y="100.90" font-size="3.5" font-weight="bold" text-anchor="middle" fill="#1a1a1a" textLength="6.90" lengthAdjust="spacingAndGlyphs">6 475</text>
<text x="726.50" y="83.70" font-size="3.5" font-weight="bold" text-anchor="middle" fill="#1a1a1a" textLength="6.90" lengthAdjust="spacingAndGlyphs">1 290</text>
<text x="733.50" y="83.70" font-size="3.5" font-weight="bold" text-anchor="middle" fill="#1a1a1a" textLength="4.14" lengthAdjust="spacingAndGlyphs">380</text>
<text x="742.00" y="83.70" font-size="3.5" font-weight="bold" text-anchor="middle" fill="#1a1a1a" textLength="6.90" lengthAdjust="spacingAndGlyphs">1 190</text>
<text x="759.00" y="83.70" font-size="3.5" font-weight="bold" text-anchor="middle" fill="#1a1a1a" textLength="6.90" lengthAdjust="spacingAndGlyphs">4 175</text>
<text x="585.00" y="152.90" font-size="3.5" font-weight="bold" text-anchor="middle" fill="#1a1a1a" textLength="4.14" lengthAdjust="spacingAndGlyphs">250</text>
<text x="594.50" y="152.90" font-size="3.5" font-weight="bold" text-anchor="middle" fill="#1a1a1a" textLength="6.90" lengthAdjust="spacingAndGlyphs">1 240</text>
<text x="609.50" y="152.90" font-size="3.5" font-weight="bold" text-anchor="middle" fill="#1a1a1a" textLength="4.14" lengthAdjust="spacingAndGlyphs">380</text>
<text x="626.00" y="152.90" font-size="3.5" font-weight="bold" text-anchor="middle" fill="#1a1a1a" textLength="6.90" lengthAdjust="spacingAndGlyphs">2 890</text>
<text x="637.50" y="152.90" font-size="3.5" font-weight="bold" text-anchor="middle" fill="#1a1a1a" textLength="4.14" lengthAdjust="spacingAndGlyphs">380</text>
<text x="646.50" y="152.90" font-size="3.5" font-weight="bold" text-anchor="middle" fill="#1a1a1a" textLength="4.14" lengthAdjust="spacingAndGlyphs">770</text>
<text x="653.00" y="152.90" font-size="3.5" font-weight="bold" text-anchor="middle" fill="#1a1a1a" textLength="4.14" lengthAdjust="spacingAndGlyphs">250</text>
<text x="662.50" y="152.90" font-size="3.5" font-weight="bold" text-anchor="middle" fill="#1a1a1a" textLength="5.52" lengthAdjust="spacingAndGlyphs">1 90</text>
<text x="677.00" y="152.90" font-size="3.5" font-weight="bold" text-anchor="middle" fill="#1a1a1a" textLength="4.14" lengthAdjust="spacingAndGlyphs">380</text>
<text x="692.00" y="152.90" font-size="3.5" font-weight="bold" text-anchor="middle" fill="#1a1a1a" textLength="6.90" lengthAdjust="spacingAndGlyphs">2 890</text>
<text x="705.00" y="152.90" font-size="3.5" font-weight="bold" text-anchor="middle" fill="#1a1a1a" textLength="4.14" lengthAdjust="spacingAndGlyphs">380</text>
<text x="714.00" y="152.90" font-size="3.5" font-weight="bold" text-anchor="middle" fill="#1a1a1a" textLength="4.14" lengthAdjust="spacingAndGlyphs">770</text>
<text x="727.00" y="152.90" font-size="3.5" font-weight="bold" text-anchor="middle" fill="#1a1a1a" textLength="4.14" lengthAdjust="spacingAndGlyphs">750</text>
<text x="738.00" y="152.90" font-size="3.5" font-weight="bold" text-anchor="middle" fill="#1a1a1a" textLength="6.90" lengthAdjust="spacingAndGlyphs">1 500</text>
<text x="769.00" y="152.90" font-size="3.5" font-weight="bold" text-anchor="middle" fill="#1a1a1a" textLength="6.90" lengthAdjust="spacingAndGlyphs">5 400</text>
<text x="788.00" y="152.90" font-size="3.5" font-weight="bold" text-anchor="middle" fill="#1a1a1a" textLength="4.14" lengthAdjust="spacingAndGlyphs">380</text>
<text x="795.00" y="152.90" font-size="3.5" font-weight="bold" text-anchor="middle" fill="#1a1a1a" textLength="4.14" lengthAdjust="spacingAndGlyphs">800</text>
<text x="585.50" y="234.20" font-size="3.5" font-weight="bold" text-anchor="middle" fill="#1a1a1a" textLength="4.14" lengthAdjust="spacingAndGlyphs">380</text>
<text x="619.00" y="234.20" font-size="3.5" font-weight="bold" text-anchor="middle" fill="#1a1a1a" textLength="6.90" lengthAdjust="spacingAndGlyphs">5 400</text>
<text x="649.00" y="234.20" font-size="3.5" font-weight="bold" text-anchor="middle" fill="#1a1a1a" textLength="4.14" lengthAdjust="spacingAndGlyphs">380</text>
<text x="658.50" y="234.20" font-size="3.5" font-weight="bold" text-anchor="middle" fill="#1a1a1a" textLength="4.14" lengthAdjust="spacingAndGlyphs">400</text>
<text x="693.00" y="234.20" font-size="3.5" font-weight="bold" text-anchor="middle" fill="#1a1a1a" textLength="6.90" lengthAdjust="spacingAndGlyphs">4 470</text>
<text x="715.00" y="234.20" font-size="3.5" font-weight="bold" text-anchor="middle" fill="#1a1a1a" textLength="4.14" lengthAdjust="spacingAndGlyphs">400</text>
<text x="726.00" y="234.20" font-size="3.5" font-weight="bold" text-anchor="middle" fill="#1a1a1a" textLength="4.14" lengthAdjust="spacingAndGlyphs">395</text>
<text x="760.00" y="234.20" font-size="3.5" font-weight="bold" text-anchor="middle" fill="#1a1a1a" textLength="6.90" lengthAdjust="spacingAndGlyphs">5 400</text>
<text x="788.00" y="234.20" font-size="3.5" font-weight="bold" text-anchor="middle" fill="#1a1a1a" textLength="4.14" lengthAdjust="spacingAndGlyphs">380</text>
<text font-size="3.5" font-weight="bold" text-anchor="middle" fill="#1a1a1a" textLength="6.90" lengthAdjust="spacingAndGlyphs" transform="translate(626.00,90.00) rotate(-90)">5 150</text>
<text font-size="3.5" font-weight="bold" text-anchor="middle" fill="#1a1a1a" textLength="6.90" lengthAdjust="spacingAndGlyphs" transform="translate(626.00,113.00) rotate(-90)">1 200</text>
<text font-size="3.5" font-weight="bold" text-anchor="middle" fill="#1a1a1a" textLength="4.14" lengthAdjust="spacingAndGlyphs" transform="translate(626.00,121.00) rotate(-90)">250</text>
<text font-size="3.5" font-weight="bold" text-anchor="middle" fill="#1a1a1a" textLength="4.14" lengthAdjust="spacingAndGlyphs" transform="translate(626.00,129.00) rotate(-90)">380</text>
<text font-size="3.5" font-weight="bold" text-anchor="middle" fill="#1a1a1a" textLength="4.14" lengthAdjust="spacingAndGlyphs" transform="translate(626.00,137.50) rotate(-90)">400</text>
<text font-size="3.5" font-weight="bold" text-anchor="middle" fill="#1a1a1a" textLength="6.90" lengthAdjust="spacingAndGlyphs" transform="translate(626.00,205.00) rotate(-90)">9 700</text>
<text font-size="3.5" font-weight="bold" text-anchor="middle" fill="#1a1a1a" textLength="6.90" lengthAdjust="spacingAndGlyphs" transform="translate(626.00,250.00) rotate(-90)">1 200</text>
<text font-size="3.5" font-weight="bold" text-anchor="middle" fill="#1a1a1a" textLength="6.90" lengthAdjust="spacingAndGlyphs" transform="translate(626.00,264.00) rotate(-90)">1 000</text>
<text font-size="3.5" font-weight="bold" text-anchor="middle" fill="#1a1a1a" textLength="6.90" lengthAdjust="spacingAndGlyphs" transform="translate(692.30,88.00) rotate(-90)">5 150</text>
<text font-size="3.5" font-weight="bold" text-anchor="middle" fill="#1a1a1a" textLength="6.90" lengthAdjust="spacingAndGlyphs" transform="translate(692.30,113.00) rotate(-90)">1 200</text>
<text font-size="3.5" font-weight="bold" text-anchor="middle" fill="#1a1a1a" textLength="4.14" lengthAdjust="spacingAndGlyphs" transform="translate(692.30,121.00) rotate(-90)">250</text>
<text font-size="3.5" font-weight="bold" text-anchor="middle" fill="#1a1a1a" textLength="6.90" lengthAdjust="spacingAndGlyphs" transform="translate(692.30,173.00) rotate(-90)">5 150</text>
<text font-size="3.5" font-weight="bold" text-anchor="middle" fill="#1a1a1a" textLength="4.14" lengthAdjust="spacingAndGlyphs" transform="translate(692.30,215.00) rotate(-90)">380</text>
<text font-size="3.5" font-weight="bold" text-anchor="middle" fill="#1a1a1a" textLength="6.90" lengthAdjust="spacingAndGlyphs" transform="translate(692.30,242.00) rotate(-90)">3 000</text>
<text font-size="3.5" font-weight="bold" text-anchor="middle" fill="#1a1a1a" textLength="6.90" lengthAdjust="spacingAndGlyphs" transform="translate(752.40,96.00) rotate(-90)">5 150</text>
<text font-size="3.5" font-weight="bold" text-anchor="middle" fill="#1a1a1a" textLength="6.90" lengthAdjust="spacingAndGlyphs" transform="translate(752.40,142.00) rotate(-90)">1 000</text>
<text font-size="3.5" font-weight="bold" text-anchor="middle" fill="#1a1a1a" textLength="6.90" lengthAdjust="spacingAndGlyphs" transform="translate(752.40,188.00) rotate(-90)">5 730</text>
<text font-size="3.5" font-weight="bold" text-anchor="middle" fill="#1a1a1a" textLength="6.90" lengthAdjust="spacingAndGlyphs" transform="translate(752.40,222.00) rotate(-90)">1 200</text>
<text font-size="3.5" font-weight="bold" text-anchor="middle" fill="#1a1a1a" textLength="6.90" lengthAdjust="spacingAndGlyphs" transform="translate(752.40,250.00) rotate(-90)">2 200</text>
<text font-size="3.5" font-weight="bold" text-anchor="middle" fill="#1a1a1a" textLength="4.14" lengthAdjust="spacingAndGlyphs" transform="translate(626.00,68.00) rotate(-90)">500</text>
<text font-size="3.5" font-weight="bold" text-anchor="middle" fill="#1a1a1a" textLength="4.14" lengthAdjust="spacingAndGlyphs" transform="translate(692.30,66.00) rotate(-90)">500</text>
<line x1="625.20" y1="109.80" x2="628.20" y2="109.80" stroke="#666a9c" stroke-width="0.34" />
<line x1="625.20" y1="116.30" x2="628.20" y2="116.30" stroke="#666a9c" stroke-width="0.34" />
<line x1="625.20" y1="124.00" x2="628.20" y2="124.00" stroke="#666a9c" stroke-width="0.34" />
<line x1="625.20" y1="131.00" x2="628.20" y2="131.00" stroke="#666a9c" stroke-width="0.34" />
<line x1="625.20" y1="136.40" x2="628.20" y2="136.40" stroke="#666a9c" stroke-width="0.34" />
<line x1="691.50" y1="109.80" x2="694.50" y2="109.80" stroke="#666a9c" stroke-width="0.34" />
<line x1="691.50" y1="116.30" x2="694.50" y2="116.30" stroke="#666a9c" stroke-width="0.34" />
<line x1="691.50" y1="124.00" x2="694.50" y2="124.00" stroke="#666a9c" stroke-width="0.34" />
<line x1="691.50" y1="131.00" x2="694.50" y2="131.00" stroke="#666a9c" stroke-width="0.34" />
<line x1="691.50" y1="136.40" x2="694.50" y2="136.40" stroke="#666a9c" stroke-width="0.34" />
<line x1="751.60" y1="147.50" x2="754.60" y2="147.50" stroke="#666a9c" stroke-width="0.34" />
<line x1="751.60" y1="216.00" x2="754.60" y2="216.00" stroke="#666a9c" stroke-width="0.34" />
<line x1="751.60" y1="228.00" x2="754.60" y2="228.00" stroke="#666a9c" stroke-width="0.34" />
<line x1="751.60" y1="240.00" x2="754.60" y2="240.00" stroke="#666a9c" stroke-width="0.34" />
<line x1="607.00" y1="100.20" x2="607.00" y2="102.60" stroke="#666a9c" stroke-width="0.34" />
<line x1="645.00" y1="100.20" x2="645.00" y2="102.60" stroke="#666a9c" stroke-width="0.34" />
<line x1="660.00" y1="100.20" x2="660.00" y2="102.60" stroke="#666a9c" stroke-width="0.34" />
<line x1="672.00" y1="100.20" x2="672.00" y2="102.60" stroke="#666a9c" stroke-width="0.34" />
<line x1="714.00" y1="100.20" x2="714.00" y2="102.60" stroke="#666a9c" stroke-width="0.34" />
<line x1="718.40" y1="100.20" x2="718.40" y2="102.60" stroke="#666a9c" stroke-width="0.34" />
<line x1="607.00" y1="152.20" x2="607.00" y2="154.60" stroke="#666a9c" stroke-width="0.34" />
<line x1="645.00" y1="152.20" x2="645.00" y2="154.60" stroke="#666a9c" stroke-width="0.34" />
<line x1="660.00" y1="152.20" x2="660.00" y2="154.60" stroke="#666a9c" stroke-width="0.34" />
<line x1="672.00" y1="152.20" x2="672.00" y2="154.60" stroke="#666a9c" stroke-width="0.34" />
<line x1="714.00" y1="152.20" x2="714.00" y2="154.60" stroke="#666a9c" stroke-width="0.34" />
<line x1="718.40" y1="152.20" x2="718.40" y2="154.60" stroke="#666a9c" stroke-width="0.34" />
<text x="730.00" y="122.30" font-size="2.8" font-weight="bold" text-anchor="middle" fill="#1a1a1a" textLength="9.66" lengthAdjust="spacingAndGlyphs">Ась-003</text>
<line x1="722.50" y1="124.60" x2="726.00" y2="122.60" stroke="#333" stroke-width="0.4" />
<circle cx="615.40" cy="95.40" r="3.3" fill="none" stroke="#7a1414" stroke-width="0.95"/>
<text x="615.40" y="96.65" font-size="3.5" text-anchor="middle" fill="#222" style="" >15</text>
<circle cx="684.90" cy="95.40" r="3.3" fill="none" stroke="#7a1414" stroke-width="0.95"/>
<text x="684.90" y="96.65" font-size="3.5" text-anchor="middle" fill="#222" style="" >16</text>
<circle cx="740.90" cy="110.90" r="3.3" fill="none" stroke="#7a1414" stroke-width="0.95"/>
<text x="740.90" y="112.15" font-size="3.5" text-anchor="middle" fill="#222" style="" >17</text>
<circle cx="614.70" cy="203.90" r="3.3" fill="none" stroke="#7a1414" stroke-width="0.95"/>
<text x="614.70" y="205.15" font-size="3.5" text-anchor="middle" fill="#222" style="" >18</text>
<circle cx="685.20" cy="187.60" r="3.3" fill="none" stroke="#7a1414" stroke-width="0.95"/>
<text x="685.20" y="188.85" font-size="3.5" text-anchor="middle" fill="#222" style="" >13</text>
<circle cx="685.50" cy="229.20" r="3.3" fill="none" stroke="#7a1414" stroke-width="0.95"/>
<text x="685.50" y="230.45" font-size="3.5" text-anchor="middle" fill="#222" style="" >12</text>
<circle cx="747.90" cy="203.40" r="3.3" fill="none" stroke="#7a1414" stroke-width="0.95"/>
<text x="747.90" y="204.65" font-size="3.5" text-anchor="middle" fill="#222" style="" >14</text>
<text x="618.50" y="58.70" font-size="2.6" text-anchor="middle" fill="#222" style="font-style:italic;font-weight:bold" >Д-1</text>
<text x="684.80" y="53.80" font-size="2.6" text-anchor="middle" fill="#222" style="font-style:italic;font-weight:bold" >Д-1</text>
<text x="752.80" y="58.70" font-size="2.6" text-anchor="middle" fill="#222" style="font-style:italic;font-weight:bold" >Д-1</text>
<text x="620.50" y="278.80" font-size="2.6" text-anchor="middle" fill="#222" style="font-style:italic;font-weight:bold" >Д-1</text>
<text x="687.50" y="278.80" font-size="2.6" text-anchor="middle" fill="#222" style="font-style:italic;font-weight:bold" >Д-1</text>
<text x="754.00" y="278.80" font-size="2.6" text-anchor="middle" fill="#222" style="font-style:italic;font-weight:bold" >Д-1</text>
<text x="795.20" y="119.30" font-size="2.6" text-anchor="middle" fill="#222" style="font-style:italic;font-weight:bold" >Д-2</text>
<text x="795.20" y="215.80" font-size="2.6" text-anchor="middle" fill="#222" style="font-style:italic;font-weight:bold" >Д-2</text>
<line x1="582.60" y1="47.50" x2="790.80" y2="47.50" stroke="#6c78c2" stroke-width="0.5" />
<line x1="600.90" y1="46.10" x2="600.90" y2="48.90" stroke="#6c78c2" stroke-width="0.5" />
<line x1="636.70" y1="46.10" x2="636.70" y2="48.90" stroke="#6c78c2" stroke-width="0.5" />
<line x1="658.10" y1="46.10" x2="658.10" y2="48.90" stroke="#6c78c2" stroke-width="0.5" />
<line x1="663.40" y1="46.10" x2="663.40" y2="48.90" stroke="#6c78c2" stroke-width="0.5" />
<line x1="704.30" y1="46.10" x2="704.30" y2="48.90" stroke="#6c78c2" stroke-width="0.5" />
<line x1="710.00" y1="46.10" x2="710.00" y2="48.90" stroke="#6c78c2" stroke-width="0.5" />
<line x1="735.00" y1="46.10" x2="735.00" y2="48.90" stroke="#6c78c2" stroke-width="0.5" />
<line x1="771.80" y1="46.10" x2="771.80" y2="48.90" stroke="#6c78c2" stroke-width="0.5" />
<line x1="582.60" y1="46.10" x2="582.60" y2="48.90" stroke="#6c78c2" stroke-width="0.5" />
<line x1="790.80" y1="46.10" x2="790.80" y2="48.90" stroke="#6c78c2" stroke-width="0.5" />
<text x="591.50" y="46.90" font-size="3.5" font-weight="bold" text-anchor="middle" fill="#1a1a1a" textLength="6.90" lengthAdjust="spacingAndGlyphs">1 400</text>
<text x="618.80" y="46.90" font-size="3.5" font-weight="bold" text-anchor="middle" fill="#1a1a1a" textLength="6.90" lengthAdjust="spacingAndGlyphs">3 200</text>
<text x="645.00" y="46.90" font-size="3.5" font-weight="bold" text-anchor="middle" fill="#1a1a1a" textLength="6.90" lengthAdjust="spacingAndGlyphs">1 965</text>
<text x="656.00" y="46.90" font-size="3.5" font-weight="bold" text-anchor="middle" fill="#1a1a1a" textLength="4.14" lengthAdjust="spacingAndGlyphs">380</text>
<text x="683.80" y="46.90" font-size="3.5" font-weight="bold" text-anchor="middle" fill="#1a1a1a" textLength="6.90" lengthAdjust="spacingAndGlyphs">4 200</text>
<text x="706.50" y="46.90" font-size="3.5" font-weight="bold" text-anchor="middle" fill="#1a1a1a" textLength="4.14" lengthAdjust="spacingAndGlyphs">380</text>
<text x="722.00" y="46.90" font-size="3.5" font-weight="bold" text-anchor="middle" fill="#1a1a1a" textLength="6.90" lengthAdjust="spacingAndGlyphs">1 965</text>
<text x="753.00" y="46.90" font-size="3.5" font-weight="bold" text-anchor="middle" fill="#1a1a1a" textLength="6.90" lengthAdjust="spacingAndGlyphs">3 200</text>
<text x="781.00" y="46.90" font-size="3.5" font-weight="bold" text-anchor="middle" fill="#1a1a1a" textLength="6.90" lengthAdjust="spacingAndGlyphs">1 680</text>
<line x1="582.60" y1="292.10" x2="790.80" y2="292.10" stroke="#6c78c2" stroke-width="0.5" />
<line x1="598.40" y1="290.70" x2="598.40" y2="293.50" stroke="#6c78c2" stroke-width="0.5" />
<line x1="603.40" y1="290.70" x2="603.40" y2="293.50" stroke="#6c78c2" stroke-width="0.5" />
<line x1="638.40" y1="290.70" x2="638.40" y2="293.50" stroke="#6c78c2" stroke-width="0.5" />
<line x1="643.40" y1="290.70" x2="643.40" y2="293.50" stroke="#6c78c2" stroke-width="0.5" />
<line x1="651.50" y1="290.70" x2="651.50" y2="293.50" stroke="#6c78c2" stroke-width="0.5" />
<line x1="669.80" y1="290.70" x2="669.80" y2="293.50" stroke="#6c78c2" stroke-width="0.5" />
<line x1="708.50" y1="290.70" x2="708.50" y2="293.50" stroke="#6c78c2" stroke-width="0.5" />
<line x1="723.20" y1="290.70" x2="723.20" y2="293.50" stroke="#6c78c2" stroke-width="0.5" />
<line x1="731.60" y1="290.70" x2="731.60" y2="293.50" stroke="#6c78c2" stroke-width="0.5" />
<line x1="736.40" y1="290.70" x2="736.40" y2="293.50" stroke="#6c78c2" stroke-width="0.5" />
<line x1="772.60" y1="290.70" x2="772.60" y2="293.50" stroke="#6c78c2" stroke-width="0.5" />
<line x1="777.40" y1="290.70" x2="777.40" y2="293.50" stroke="#6c78c2" stroke-width="0.5" />
<line x1="582.60" y1="290.70" x2="582.60" y2="293.50" stroke="#6c78c2" stroke-width="0.5" />
<line x1="790.80" y1="290.70" x2="790.80" y2="293.50" stroke="#6c78c2" stroke-width="0.5" />
<text x="578.00" y="291.50" font-size="3.5" font-weight="bold" text-anchor="middle" fill="#1a1a1a" textLength="6.90" lengthAdjust="spacingAndGlyphs">1 400</text>
<text x="595.80" y="291.50" font-size="3.5" font-weight="bold" text-anchor="middle" fill="#1a1a1a" textLength="4.14" lengthAdjust="spacingAndGlyphs">380</text>
<text x="621.00" y="291.50" font-size="3.5" font-weight="bold" text-anchor="middle" fill="#1a1a1a" textLength="6.90" lengthAdjust="spacingAndGlyphs">3 240</text>
<text x="636.80" y="291.50" font-size="3.5" font-weight="bold" text-anchor="middle" fill="#1a1a1a" textLength="4.14" lengthAdjust="spacingAndGlyphs">380</text>
<text x="659.50" y="291.50" font-size="3.5" font-weight="bold" text-anchor="middle" fill="#1a1a1a" textLength="6.90" lengthAdjust="spacingAndGlyphs">2 350</text>
<text x="688.00" y="291.50" font-size="3.5" font-weight="bold" text-anchor="middle" fill="#1a1a1a" textLength="6.90" lengthAdjust="spacingAndGlyphs">3 240</text>
<text x="703.50" y="291.50" font-size="3.5" font-weight="bold" text-anchor="middle" fill="#1a1a1a" textLength="4.14" lengthAdjust="spacingAndGlyphs">150</text>
<text x="716.50" y="291.50" font-size="3.5" font-weight="bold" text-anchor="middle" fill="#1a1a1a" textLength="6.90" lengthAdjust="spacingAndGlyphs">2 270</text>
<text x="729.50" y="291.50" font-size="3.5" font-weight="bold" text-anchor="middle" fill="#1a1a1a" textLength="4.14" lengthAdjust="spacingAndGlyphs">380</text>
<text x="754.00" y="291.50" font-size="3.5" font-weight="bold" text-anchor="middle" fill="#1a1a1a" textLength="6.90" lengthAdjust="spacingAndGlyphs">3 240</text>
<text x="770.50" y="291.50" font-size="3.5" font-weight="bold" text-anchor="middle" fill="#1a1a1a" textLength="4.14" lengthAdjust="spacingAndGlyphs">380</text>
<text x="784.50" y="291.50" font-size="3.5" font-weight="bold" text-anchor="middle" fill="#1a1a1a" textLength="6.90" lengthAdjust="spacingAndGlyphs">1 300</text>
<line x1="582.60" y1="300.00" x2="790.80" y2="300.00" stroke="#6c78c2" stroke-width="0.5" />
<line x1="651.50" y1="298.60" x2="651.50" y2="301.40" stroke="#6c78c2" stroke-width="0.5" />
<line x1="723.20" y1="298.60" x2="723.20" y2="301.40" stroke="#6c78c2" stroke-width="0.5" />
<line x1="582.60" y1="298.60" x2="582.60" y2="301.40" stroke="#6c78c2" stroke-width="0.5" />
<line x1="790.80" y1="298.60" x2="790.80" y2="301.40" stroke="#6c78c2" stroke-width="0.5" />
<text x="617.00" y="299.40" font-size="3.5" font-weight="bold" text-anchor="middle" fill="#1a1a1a" textLength="6.90" lengthAdjust="spacingAndGlyphs">6 150</text>
<text x="687.00" y="299.40" font-size="3.5" font-weight="bold" text-anchor="middle" fill="#1a1a1a" textLength="6.90" lengthAdjust="spacingAndGlyphs">6 400</text>
<text x="757.00" y="299.40" font-size="3.5" font-weight="bold" text-anchor="middle" fill="#1a1a1a" textLength="6.90" lengthAdjust="spacingAndGlyphs">6 100</text>
<line x1="582.60" y1="307.70" x2="790.80" y2="307.70" stroke="#6c78c2" stroke-width="0.5" />
<line x1="651.50" y1="306.30" x2="651.50" y2="309.10" stroke="#6c78c2" stroke-width="0.5" />
<line x1="723.20" y1="306.30" x2="723.20" y2="309.10" stroke="#6c78c2" stroke-width="0.5" />
<line x1="582.60" y1="306.30" x2="582.60" y2="309.10" stroke="#6c78c2" stroke-width="0.5" />
<line x1="790.80" y1="306.30" x2="790.80" y2="309.10" stroke="#6c78c2" stroke-width="0.5" />
<line x1="583.20" y1="275.50" x2="583.20" y2="311.00" stroke="#555" stroke-width="0.45" stroke-dasharray="2 1.4" />
<line x1="583.20" y1="290.70" x2="583.20" y2="293.50" stroke="#a04040" stroke-width="0.5" />
<line x1="583.20" y1="298.60" x2="583.20" y2="301.40" stroke="#a04040" stroke-width="0.5" />
<line x1="583.20" y1="306.30" x2="583.20" y2="309.10" stroke="#a04040" stroke-width="0.5" />
<line x1="651.50" y1="275.50" x2="651.50" y2="311.00" stroke="#555" stroke-width="0.45" stroke-dasharray="2 1.4" />
<line x1="651.50" y1="290.70" x2="651.50" y2="293.50" stroke="#a04040" stroke-width="0.5" />
<line x1="651.50" y1="298.60" x2="651.50" y2="301.40" stroke="#a04040" stroke-width="0.5" />
<line x1="651.50" y1="306.30" x2="651.50" y2="309.10" stroke="#a04040" stroke-width="0.5" />
<line x1="723.20" y1="275.50" x2="723.20" y2="311.00" stroke="#555" stroke-width="0.45" stroke-dasharray="2 1.4" />
<line x1="723.20" y1="290.70" x2="723.20" y2="293.50" stroke="#a04040" stroke-width="0.5" />
<line x1="723.20" y1="298.60" x2="723.20" y2="301.40" stroke="#a04040" stroke-width="0.5" />
<line x1="723.20" y1="306.30" x2="723.20" y2="309.10" stroke="#a04040" stroke-width="0.5" />
<line x1="791.40" y1="275.50" x2="791.40" y2="311.00" stroke="#555" stroke-width="0.45" stroke-dasharray="2 1.4" />
<line x1="791.40" y1="290.70" x2="791.40" y2="293.50" stroke="#a04040" stroke-width="0.5" />
<line x1="791.40" y1="298.60" x2="791.40" y2="301.40" stroke="#a04040" stroke-width="0.5" />
<line x1="791.40" y1="306.30" x2="791.40" y2="309.10" stroke="#a04040" stroke-width="0.5" />
<line x1="807.00" y1="59.70" x2="807.00" y2="273.90" stroke="#6c78c2" stroke-width="0.5" />
<line x1="805.60" y1="112.60" x2="808.40" y2="112.60" stroke="#6c78c2" stroke-width="0.5" />
<line x1="805.60" y1="125.10" x2="808.40" y2="125.10" stroke="#6c78c2" stroke-width="0.5" />
<line x1="805.60" y1="130.10" x2="808.40" y2="130.10" stroke="#6c78c2" stroke-width="0.5" />
<line x1="805.60" y1="136.40" x2="808.40" y2="136.40" stroke="#6c78c2" stroke-width="0.5" />
<line x1="805.60" y1="147.50" x2="808.40" y2="147.50" stroke="#6c78c2" stroke-width="0.5" />
<line x1="805.60" y1="158.40" x2="808.40" y2="158.40" stroke="#6c78c2" stroke-width="0.5" />
<line x1="805.60" y1="209.30" x2="808.40" y2="209.30" stroke="#6c78c2" stroke-width="0.5" />
<line x1="805.60" y1="220.10" x2="808.40" y2="220.10" stroke="#6c78c2" stroke-width="0.5" />
<line x1="805.60" y1="59.70" x2="808.40" y2="59.70" stroke="#6c78c2" stroke-width="0.5" />
<line x1="805.60" y1="273.90" x2="808.40" y2="273.90" stroke="#6c78c2" stroke-width="0.5" />
<text font-size="3.5" font-weight="bold" text-anchor="middle" fill="#1a1a1a" textLength="6.90" lengthAdjust="spacingAndGlyphs" transform="translate(806.40,85.00) rotate(-90)">4 650</text>
<text font-size="3.5" font-weight="bold" text-anchor="middle" fill="#1a1a1a" textLength="6.90" lengthAdjust="spacingAndGlyphs" transform="translate(806.40,118.50) rotate(-90)">1 200</text>
<text font-size="3.5" font-weight="bold" text-anchor="middle" fill="#1a1a1a" textLength="4.14" lengthAdjust="spacingAndGlyphs" transform="translate(806.40,128.00) rotate(-90)">500</text>
<text font-size="3.5" font-weight="bold" text-anchor="middle" fill="#1a1a1a" textLength="6.90" lengthAdjust="spacingAndGlyphs" transform="translate(806.40,142.00) rotate(-90)">1 000</text>
<text font-size="3.5" font-weight="bold" text-anchor="middle" fill="#1a1a1a" textLength="4.14" lengthAdjust="spacingAndGlyphs" transform="translate(806.40,153.00) rotate(-90)">900</text>
<text font-size="3.5" font-weight="bold" text-anchor="middle" fill="#1a1a1a" textLength="6.90" lengthAdjust="spacingAndGlyphs" transform="translate(806.40,183.00) rotate(-90)">4 650</text>
<text font-size="3.5" font-weight="bold" text-anchor="middle" fill="#1a1a1a" textLength="6.90" lengthAdjust="spacingAndGlyphs" transform="translate(806.40,215.00) rotate(-90)">1 200</text>
<text font-size="3.5" font-weight="bold" text-anchor="middle" fill="#1a1a1a" textLength="6.90" lengthAdjust="spacingAndGlyphs" transform="translate(806.40,246.00) rotate(-90)">4 650</text>
<line x1="823.20" y1="59.70" x2="823.20" y2="273.90" stroke="#2a2a2a" stroke-width="0.45" stroke-dasharray="4.6 1.7" />
<line x1="830.90" y1="59.70" x2="830.90" y2="273.90" stroke="#2a2a2a" stroke-width="0.45" stroke-dasharray="4.6 1.7" />
<line x1="839.00" y1="59.70" x2="839.00" y2="273.90" stroke="#2a2a2a" stroke-width="0.45" stroke-dasharray="4.6 1.7" />
<line x1="807.00" y1="59.70" x2="842.00" y2="59.70" stroke="#2a2a2a" stroke-width="0.5" stroke-dasharray="3.2 1.7" />
<line x1="807.00" y1="130.10" x2="842.00" y2="130.10" stroke="#2a2a2a" stroke-width="0.5" stroke-dasharray="3.2 1.7" />
<line x1="812.40" y1="193.90" x2="842.00" y2="193.90" stroke="#2a2a2a" stroke-width="0.5" stroke-dasharray="3.2 1.7" />
<line x1="812.40" y1="212.90" x2="842.00" y2="212.90" stroke="#2a2a2a" stroke-width="0.5" stroke-dasharray="3.2 1.7" />
<line x1="807.00" y1="273.90" x2="842.00" y2="273.90" stroke="#2a2a2a" stroke-width="0.5" stroke-dasharray="3.2 1.7" />
<text font-size="3.5" font-weight="bold" text-anchor="middle" fill="#1a1a1a" textLength="6.90" lengthAdjust="spacingAndGlyphs" transform="translate(822.40,100.00) rotate(-90)">7 680</text>
<text font-size="3.5" font-weight="bold" text-anchor="middle" fill="#1a1a1a" textLength="6.90" lengthAdjust="spacingAndGlyphs" transform="translate(830.10,93.00) rotate(-90)">6 235</text>
<text font-size="3.5" font-weight="bold" text-anchor="middle" fill="#1a1a1a" textLength="6.90" lengthAdjust="spacingAndGlyphs" transform="translate(830.10,160.00) rotate(-90)">5 730</text>
<text font-size="3.5" font-weight="bold" text-anchor="middle" fill="#1a1a1a" textLength="8.28" lengthAdjust="spacingAndGlyphs" transform="translate(838.20,165.00) rotate(-90)">19 320</text>
<text font-size="3.5" font-weight="bold" text-anchor="middle" fill="#1a1a1a" textLength="6.90" lengthAdjust="spacingAndGlyphs" transform="translate(830.10,203.00) rotate(-90)">2 110</text>
<text font-size="3.5" font-weight="bold" text-anchor="middle" fill="#1a1a1a" textLength="8.28" lengthAdjust="spacingAndGlyphs" transform="translate(822.40,228.00) rotate(-90)">11 640</text>
<text font-size="3.5" font-weight="bold" text-anchor="middle" fill="#1a1a1a" textLength="6.90" lengthAdjust="spacingAndGlyphs" transform="translate(830.10,243.00) rotate(-90)">5 730</text>
<circle cx="497.60" cy="49.70" r="4.6" fill="#fff" stroke="#222" stroke-width="0.7"/>
<text x="497.60" y="51.85" font-size="6.0" text-anchor="middle" fill="#111" style="font-weight:bold" >1’</text>
<circle cx="452.50" cy="100.10" r="4.6" fill="#fff" stroke="#222" stroke-width="0.7"/>
<text x="452.50" y="102.25" font-size="6.0" text-anchor="middle" fill="#111" style="font-weight:bold" >А</text>
<circle cx="452.50" cy="145.00" r="4.6" fill="#fff" stroke="#222" stroke-width="0.7"/>
<text x="452.50" y="147.15" font-size="6.0" text-anchor="middle" fill="#111" style="font-weight:bold" >Б’</text>
<circle cx="452.50" cy="196.40" r="4.6" fill="#fff" stroke="#222" stroke-width="0.7"/>
<text x="452.50" y="198.55" font-size="6.0" text-anchor="middle" fill="#111" style="font-weight:bold" >В’</text>
<circle cx="452.50" cy="241.70" r="4.6" fill="#fff" stroke="#222" stroke-width="0.7"/>
<text x="452.50" y="243.85" font-size="6.0" text-anchor="middle" fill="#111" style="font-weight:bold" >Г’</text>
<circle cx="847.00" cy="59.30" r="4.6" fill="#fff" stroke="#222" stroke-width="0.7"/>
<text x="847.00" y="61.45" font-size="6.0" text-anchor="middle" fill="#111" style="font-weight:bold" >А</text>
<circle cx="847.00" cy="125.60" r="4.6" fill="#fff" stroke="#222" stroke-width="0.7"/>
<text x="847.00" y="127.75" font-size="6.0" text-anchor="middle" fill="#111" style="font-weight:bold" >Б</text>
<circle cx="847.00" cy="134.40" r="4.6" fill="#fff" stroke="#222" stroke-width="0.7"/>
<text x="847.00" y="136.55" font-size="6.0" text-anchor="middle" fill="#111" style="font-weight:bold" >В</text>
<circle cx="846.80" cy="193.90" r="4.6" fill="#fff" stroke="#222" stroke-width="0.7"/>
<text x="846.80" y="196.05" font-size="6.0" text-anchor="middle" fill="#111" style="font-weight:bold" >Г</text>
<circle cx="846.80" cy="212.90" r="4.6" fill="#fff" stroke="#222" stroke-width="0.7"/>
<text x="846.80" y="215.05" font-size="6.0" text-anchor="middle" fill="#111" style="font-weight:bold" >Д</text>
<circle cx="846.30" cy="273.90" r="4.6" fill="#fff" stroke="#222" stroke-width="0.7"/>
<text x="846.30" y="276.05" font-size="6.0" text-anchor="middle" fill="#111" style="font-weight:bold" >Е</text>
<circle cx="583.50" cy="315.80" r="4.6" fill="#fff" stroke="#222" stroke-width="0.7"/>
<text x="583.50" y="317.95" font-size="6.0" text-anchor="middle" fill="#111" style="font-weight:bold" >1</text>
<circle cx="651.50" cy="315.80" r="4.6" fill="#fff" stroke="#222" stroke-width="0.7"/>
<text x="651.50" y="317.95" font-size="6.0" text-anchor="middle" fill="#111" style="font-weight:bold" >2</text>
<circle cx="723.20" cy="315.80" r="4.6" fill="#fff" stroke="#222" stroke-width="0.7"/>
<text x="723.20" y="317.95" font-size="6.0" text-anchor="middle" fill="#111" style="font-weight:bold" >3</text>
<circle cx="791.70" cy="315.50" r="4.6" fill="#fff" stroke="#222" stroke-width="0.7"/>
<text x="791.70" y="317.65" font-size="6.0" text-anchor="middle" fill="#111" style="font-weight:bold" >4</text>
<text x="541.50" y="56.60" font-size="8.8" text-anchor="middle" fill="#000" style="font-style:italic" stroke="#000" stroke-width="0.12" textLength="19.5" lengthAdjust="spacingAndGlyphs">7 800</text>
<text x="689.60" y="306.80" font-size="8.8" text-anchor="middle" fill="#000" style="font-style:italic" stroke="#000" stroke-width="0.12" textLength="23" lengthAdjust="spacingAndGlyphs">18 650</text>
<text font-size="8.8" text-anchor="middle" fill="#000" stroke="#000" stroke-width="0.12" style="font-style:italic" textLength="23" lengthAdjust="spacingAndGlyphs" transform="translate(458,175) rotate(-90)">12 600</text>
<text font-size="8.8" text-anchor="middle" fill="#000" stroke="#000" stroke-width="0.12" style="font-style:italic" textLength="23" lengthAdjust="spacingAndGlyphs" transform="translate(847.6,165) rotate(-90)">19 320</text>
</g>
<g id="titles">
<text x="19.20" y="28.40" font-size="12.2" class="bi" text-anchor="start" fill="#111" textLength="119.50" lengthAdjust="spacingAndGlyphs" stroke="#111" stroke-width="0.25">План 1-го поверху</text>
<line x1="19.20" y1="30.30" x2="138.70" y2="30.30" stroke="#111" stroke-width="1.25" />
<text x="459.80" y="36.00" font-size="12.2" class="bi" text-anchor="start" fill="#111" textLength="118.40" lengthAdjust="spacingAndGlyphs" stroke="#111" stroke-width="0.25">План 2-го поверху</text>
<line x1="459.80" y1="37.90" x2="578.20" y2="37.90" stroke="#111" stroke-width="1.25" />
<text x="686.20" y="21.10" font-size="16.2" class="bi" text-anchor="start" fill="#111" textLength="213.80" lengthAdjust="spacingAndGlyphs" stroke="#111" stroke-width="0.3">АДМІНБУДИНОК. БЛОК 3</text>
<text x="29.80" y="337.50" font-size="12" class="bi" text-anchor="start" fill="#111" textLength="228.70" lengthAdjust="spacingAndGlyphs" stroke="#111" stroke-width="0.25">Екплікація приміщень 1-го поверху</text>
<text x="310.40" y="368.40" font-size="12" class="bi" text-anchor="start" fill="#111" textLength="229.30" lengthAdjust="spacingAndGlyphs" stroke="#111" stroke-width="0.25">Екплікація приміщень 2-го поверху</text>
</g>
<g>
<line x1="17.60" y1="421.33" x2="273.40" y2="421.33" stroke="#5a5a5a" stroke-width="0.7" />
<line x1="17.60" y1="438.36" x2="273.40" y2="438.36" stroke="#5a5a5a" stroke-width="0.7" />
<line x1="17.60" y1="455.39" x2="273.40" y2="455.39" stroke="#5a5a5a" stroke-width="0.7" />
<line x1="17.60" y1="472.42" x2="273.40" y2="472.42" stroke="#5a5a5a" stroke-width="0.7" />
<line x1="17.60" y1="489.45" x2="273.40" y2="489.45" stroke="#5a5a5a" stroke-width="0.7" />
<line x1="17.60" y1="506.48" x2="273.40" y2="506.48" stroke="#5a5a5a" stroke-width="0.7" />
<line x1="17.60" y1="523.51" x2="273.40" y2="523.51" stroke="#5a5a5a" stroke-width="0.7" />
<line x1="17.60" y1="540.54" x2="273.40" y2="540.54" stroke="#5a5a5a" stroke-width="0.7" />
<line x1="17.60" y1="557.57" x2="273.40" y2="557.57" stroke="#5a5a5a" stroke-width="0.7" />
<line x1="17.60" y1="574.60" x2="273.40" y2="574.60" stroke="#5a5a5a" stroke-width="0.7" />
<line x1="17.60" y1="591.63" x2="273.40" y2="591.63" stroke="#555" stroke-width="0.7" />
<line x1="17.10" y1="359.40" x2="273.90" y2="359.40" stroke="#2a2a2a" stroke-width="1.0" />
<line x1="17.10" y1="386.20" x2="273.90" y2="386.20" stroke="#2a2a2a" stroke-width="1.0" />
<line x1="17.10" y1="404.30" x2="273.90" y2="404.30" stroke="#2a2a2a" stroke-width="1.0" />
<line x1="17.10" y1="608.60" x2="273.90" y2="608.60" stroke="#2a2a2a" stroke-width="1.0" />
<line x1="17.10" y1="626.20" x2="273.90" y2="626.20" stroke="#2a2a2a" stroke-width="1.0" />
<line x1="17.60" y1="359.40" x2="17.60" y2="626.20" stroke="#2a2a2a" stroke-width="0.95" />
<line x1="44.00" y1="359.40" x2="44.00" y2="626.20" stroke="#2a2a2a" stroke-width="0.95" />
<line x1="204.70" y1="359.40" x2="204.70" y2="626.20" stroke="#2a2a2a" stroke-width="0.95" />
<line x1="241.70" y1="359.40" x2="241.70" y2="626.20" stroke="#2a2a2a" stroke-width="0.95" />
<line x1="273.40" y1="359.40" x2="273.40" y2="626.20" stroke="#2a2a2a" stroke-width="0.95" />
<text x="26.40" y="372.60" font-size="10.3" class="it" text-anchor="start" fill="#222" textLength="9.50" lengthAdjust="spacingAndGlyphs" >№</text>
<text x="22.50" y="381.40" font-size="10.3" class="it" text-anchor="start" fill="#222" textLength="16.20" lengthAdjust="spacingAndGlyphs" >п/п</text>
<text x="85.90" y="375.90" font-size="10.3" class="it" text-anchor="start" fill="#222" textLength="70.40" lengthAdjust="spacingAndGlyphs" >Найменування</text>
<text x="210.40" y="372.90" font-size="10.3" class="it" text-anchor="start" fill="#222" textLength="24.60" lengthAdjust="spacingAndGlyphs" >Один.</text>
<text x="207.80" y="381.80" font-size="10.3" class="it" text-anchor="start" fill="#222" textLength="30.40" lengthAdjust="spacingAndGlyphs" >виміру</text>
<text x="242.10" y="377.90" font-size="10.3" class="it" text-anchor="start" fill="#222" textLength="30.20" lengthAdjust="spacingAndGlyphs" >Площа</text>
<text x="30.20" y="417.33" font-size="9.3" class="it" text-anchor="middle" fill="#222" textLength="3.60" lengthAdjust="spacingAndGlyphs" >1</text>
<text x="52.20" y="417.33" font-size="9.3" class="it" text-anchor="start" fill="#222" textLength="95.50" lengthAdjust="spacingAndGlyphs" >Складське приміщення</text>
<text x="217.20" y="417.33" font-size="8.556000000000001" class="it" text-anchor="start" fill="#222" >м</text>
<text x="223.10" y="414.23" font-size="5.766" class="it" text-anchor="start" fill="#222" >2</text>
<text x="247.40" y="417.33" font-size="9.3" class="it" text-anchor="start" fill="#222" textLength="21.40" lengthAdjust="spacingAndGlyphs" >32,39</text>
<text x="30.20" y="434.36" font-size="9.3" class="it" text-anchor="middle" fill="#222" textLength="3.60" lengthAdjust="spacingAndGlyphs" >2</text>
<text x="53.40" y="434.36" font-size="9.3" class="it" text-anchor="start" fill="#222" textLength="15.50" lengthAdjust="spacingAndGlyphs" >Хол</text>
<text x="217.20" y="434.36" font-size="8.556000000000001" class="it" text-anchor="start" fill="#222" >м</text>
<text x="223.10" y="431.26" font-size="5.766" class="it" text-anchor="start" fill="#222" >2</text>
<text x="247.40" y="434.36" font-size="9.3" class="it" text-anchor="start" fill="#222" textLength="21.40" lengthAdjust="spacingAndGlyphs" >32,42</text>
<text x="30.20" y="451.39" font-size="9.3" class="it" text-anchor="middle" fill="#222" textLength="3.60" lengthAdjust="spacingAndGlyphs" >3</text>
<text x="53.40" y="451.39" font-size="9.3" class="it" text-anchor="start" fill="#222" textLength="70.50" lengthAdjust="spacingAndGlyphs" >Сходова клітина</text>
<text x="215.50" y="451.39" font-size="8.556000000000001" class="it" text-anchor="start" fill="#222" >м</text>
<text x="221.40" y="448.29" font-size="5.766" class="it" text-anchor="start" fill="#222" >2</text>
<text x="244.60" y="451.39" font-size="9.3" class="it" text-anchor="start" fill="#222" textLength="21.70" lengthAdjust="spacingAndGlyphs" >21,22</text>
<text x="30.20" y="468.42" font-size="9.3" class="it" text-anchor="middle" fill="#222" textLength="3.60" lengthAdjust="spacingAndGlyphs" >4</text>
<text x="53.90" y="468.42" font-size="9.3" class="it" text-anchor="start" fill="#222" textLength="115.50" lengthAdjust="spacingAndGlyphs" >Приміщення для бит.котла</text>
<text x="215.50" y="468.42" font-size="8.556000000000001" class="it" text-anchor="start" fill="#222" >м</text>
<text x="221.40" y="465.32" font-size="5.766" class="it" text-anchor="start" fill="#222" >2</text>
<text x="248.50" y="468.42" font-size="9.3" class="it" text-anchor="start" fill="#222" textLength="16.50" lengthAdjust="spacingAndGlyphs" >6,90</text>
<text x="30.20" y="485.45" font-size="9.3" class="it" text-anchor="middle" fill="#222" textLength="3.60" lengthAdjust="spacingAndGlyphs" >5</text>
<text x="53.40" y="485.45" font-size="9.3" class="it" text-anchor="start" fill="#222" textLength="32.50" lengthAdjust="spacingAndGlyphs" >Щитова</text>
<text x="215.50" y="485.45" font-size="8.556000000000001" class="it" text-anchor="start" fill="#222" >м</text>
<text x="221.40" y="482.35" font-size="5.766" class="it" text-anchor="start" fill="#222" >2</text>
<text x="249.10" y="485.45" font-size="9.3" class="it" text-anchor="start" fill="#222" textLength="16.30" lengthAdjust="spacingAndGlyphs" >1,44</text>
<text x="30.20" y="502.48" font-size="9.3" class="it" text-anchor="middle" fill="#222" textLength="3.60" lengthAdjust="spacingAndGlyphs" >6</text>
<text x="53.40" y="502.48" font-size="9.3" class="it" text-anchor="start" fill="#222" textLength="41.50" lengthAdjust="spacingAndGlyphs" >Санвузол</text>
<text x="215.50" y="502.48" font-size="8.556000000000001" class="it" text-anchor="start" fill="#222" >м</text>
<text x="221.40" y="499.38" font-size="5.766" class="it" text-anchor="start" fill="#222" >2</text>
<text x="249.70" y="502.48" font-size="9.3" class="it" text-anchor="start" fill="#222" textLength="15.70" lengthAdjust="spacingAndGlyphs" >1,02</text>
<text x="30.20" y="519.51" font-size="9.3" class="it" text-anchor="middle" fill="#222" textLength="3.60" lengthAdjust="spacingAndGlyphs" >7</text>
<text x="52.40" y="519.51" font-size="9.3" class="it" text-anchor="start" fill="#222" textLength="95.50" lengthAdjust="spacingAndGlyphs" >Складське приміщення</text>
<text x="215.50" y="519.51" font-size="8.556000000000001" class="it" text-anchor="start" fill="#222" >м</text>
<text x="221.40" y="516.41" font-size="5.766" class="it" text-anchor="start" fill="#222" >2</text>
<text x="244.00" y="519.51" font-size="9.3" class="it" text-anchor="start" fill="#222" textLength="20.80" lengthAdjust="spacingAndGlyphs" >66,81</text>
<text x="30.20" y="536.54" font-size="9.3" class="it" text-anchor="middle" fill="#222" textLength="3.60" lengthAdjust="spacingAndGlyphs" >8</text>
<text x="52.40" y="536.54" font-size="9.3" class="it" text-anchor="start" fill="#222" textLength="95.50" lengthAdjust="spacingAndGlyphs" >Складське приміщення</text>
<text x="215.50" y="536.54" font-size="8.556000000000001" class="it" text-anchor="start" fill="#222" >м</text>
<text x="221.40" y="533.44" font-size="5.766" class="it" text-anchor="start" fill="#222" >2</text>
<text x="244.00" y="536.54" font-size="9.3" class="it" text-anchor="start" fill="#222" textLength="21.40" lengthAdjust="spacingAndGlyphs" >28,35</text>
<text x="30.20" y="553.57" font-size="9.3" class="it" text-anchor="middle" fill="#222" textLength="3.60" lengthAdjust="spacingAndGlyphs" >9</text>
<text x="52.40" y="553.57" font-size="9.3" class="it" text-anchor="start" fill="#222" textLength="95.50" lengthAdjust="spacingAndGlyphs" >Складське приміщення</text>
<text x="215.50" y="553.57" font-size="8.556000000000001" class="it" text-anchor="start" fill="#222" >м</text>
<text x="221.40" y="550.47" font-size="5.766" class="it" text-anchor="start" fill="#222" >2</text>
<text x="244.60" y="553.57" font-size="9.3" class="it" text-anchor="start" fill="#222" textLength="21.00" lengthAdjust="spacingAndGlyphs" >37,14</text>
<text x="30.60" y="570.60" font-size="9.3" class="it" text-anchor="middle" fill="#222" textLength="7.20" lengthAdjust="spacingAndGlyphs" >10</text>
<text x="52.40" y="570.60" font-size="9.3" class="it" text-anchor="start" fill="#222" textLength="95.50" lengthAdjust="spacingAndGlyphs" >Складське приміщення</text>
<text x="218.50" y="570.60" font-size="8.556000000000001" class="it" text-anchor="start" fill="#222" >м</text>
<text x="224.40" y="567.50" font-size="5.766" class="it" text-anchor="start" fill="#222" >2</text>
<text x="243.70" y="570.60" font-size="9.3" class="it" text-anchor="start" fill="#222" textLength="20.80" lengthAdjust="spacingAndGlyphs" >66,81</text>
<text x="30.60" y="587.63" font-size="9.3" class="it" text-anchor="middle" fill="#222" textLength="7.20" lengthAdjust="spacingAndGlyphs" >11</text>
<text x="51.90" y="587.63" font-size="9.3" class="it" text-anchor="start" fill="#222" textLength="57.00" lengthAdjust="spacingAndGlyphs" >Торговий зал</text>
<text x="216.70" y="587.63" font-size="8.556000000000001" class="it" text-anchor="start" fill="#222" >м</text>
<text x="222.60" y="584.53" font-size="5.766" class="it" text-anchor="start" fill="#222" >2</text>
<text x="246.70" y="587.63" font-size="9.3" class="it" text-anchor="start" fill="#222" textLength="20.00" lengthAdjust="spacingAndGlyphs" >107,2</text>
<text x="75.50" y="621.20" font-size="10.3" class="it" text-anchor="start" fill="#222" textLength="83.90" lengthAdjust="spacingAndGlyphs" >Загальна площа</text>
<text x="217.60" y="621.20" font-size="9.476" class="it" text-anchor="start" fill="#222" >м</text>
<text x="223.80" y="617.70" font-size="6.386" class="it" text-anchor="start" fill="#222" >2</text>
<text x="246.70" y="621.20" font-size="10.3" class="it" text-anchor="start" fill="#222" textLength="24.40" lengthAdjust="spacingAndGlyphs" >401,7</text>
</g>
<g>
<line x1="288.80" y1="463.95" x2="539.50" y2="463.95" stroke="#5a5a5a" stroke-width="0.7" />
<line x1="288.80" y1="480.70" x2="539.50" y2="480.70" stroke="#5a5a5a" stroke-width="0.7" />
<line x1="288.80" y1="497.45" x2="539.50" y2="497.45" stroke="#5a5a5a" stroke-width="0.7" />
<line x1="288.80" y1="514.20" x2="539.50" y2="514.20" stroke="#5a5a5a" stroke-width="0.7" />
<line x1="288.80" y1="530.95" x2="539.50" y2="530.95" stroke="#5a5a5a" stroke-width="0.7" />
<line x1="288.80" y1="547.70" x2="539.50" y2="547.70" stroke="#5a5a5a" stroke-width="0.7" />
<line x1="288.80" y1="564.45" x2="539.50" y2="564.45" stroke="#555" stroke-width="0.7" />
<line x1="288.30" y1="403.30" x2="540.00" y2="403.30" stroke="#2a2a2a" stroke-width="1.0" />
<line x1="288.30" y1="429.40" x2="540.00" y2="429.40" stroke="#2a2a2a" stroke-width="1.0" />
<line x1="288.30" y1="447.20" x2="540.00" y2="447.20" stroke="#2a2a2a" stroke-width="1.0" />
<line x1="288.30" y1="581.10" x2="540.00" y2="581.10" stroke="#2a2a2a" stroke-width="1.0" />
<line x1="288.30" y1="597.70" x2="540.00" y2="597.70" stroke="#2a2a2a" stroke-width="1.0" />
<line x1="288.80" y1="403.30" x2="288.80" y2="597.70" stroke="#2a2a2a" stroke-width="0.95" />
<line x1="315.40" y1="403.30" x2="315.40" y2="597.70" stroke="#2a2a2a" stroke-width="0.95" />
<line x1="472.60" y1="403.30" x2="472.60" y2="597.70" stroke="#2a2a2a" stroke-width="0.95" />
<line x1="508.50" y1="403.30" x2="508.50" y2="597.70" stroke="#2a2a2a" stroke-width="0.95" />
<line x1="539.50" y1="403.30" x2="539.50" y2="597.70" stroke="#2a2a2a" stroke-width="0.95" />
<text x="297.30" y="416.00" font-size="10.0" class="it" text-anchor="start" fill="#222" textLength="9.00" lengthAdjust="spacingAndGlyphs" >№</text>
<text x="293.60" y="424.20" font-size="10.0" class="it" text-anchor="start" fill="#222" textLength="15.60" lengthAdjust="spacingAndGlyphs" >п/п</text>
<text x="356.10" y="419.30" font-size="10.0" class="it" text-anchor="start" fill="#222" textLength="68.70" lengthAdjust="spacingAndGlyphs" >Найменування</text>
<text x="478.70" y="416.00" font-size="10.0" class="it" text-anchor="start" fill="#222" textLength="23.50" lengthAdjust="spacingAndGlyphs" >Один.</text>
<text x="475.10" y="424.80" font-size="10.0" class="it" text-anchor="start" fill="#222" textLength="29.80" lengthAdjust="spacingAndGlyphs" >виміру</text>
<text x="509.40" y="420.60" font-size="10.0" class="it" text-anchor="start" fill="#222" textLength="29.40" lengthAdjust="spacingAndGlyphs" >Площа</text>
<text x="303.30" y="459.95" font-size="9.0" class="it" text-anchor="middle" fill="#222" textLength="7.20" lengthAdjust="spacingAndGlyphs" >12</text>
<text x="327.40" y="459.95" font-size="9.0" class="it" text-anchor="start" fill="#222" textLength="93.30" lengthAdjust="spacingAndGlyphs" >Складське приміщення</text>
<text x="485.50" y="459.95" font-size="8.280000000000001" class="it" text-anchor="start" fill="#222" >м</text>
<text x="491.40" y="456.85" font-size="5.58" class="it" text-anchor="start" fill="#222" >2</text>
<text x="514.90" y="459.95" font-size="9.0" class="it" text-anchor="start" fill="#222" textLength="20.30" lengthAdjust="spacingAndGlyphs" >28,35</text>
<text x="303.30" y="476.70" font-size="9.0" class="it" text-anchor="middle" fill="#222" textLength="7.20" lengthAdjust="spacingAndGlyphs" >13</text>
<text x="327.40" y="476.70" font-size="9.0" class="it" text-anchor="start" fill="#222" textLength="93.30" lengthAdjust="spacingAndGlyphs" >Складське приміщення</text>
<text x="485.50" y="476.70" font-size="8.280000000000001" class="it" text-anchor="start" fill="#222" >м</text>
<text x="491.40" y="473.60" font-size="5.58" class="it" text-anchor="start" fill="#222" >2</text>
<text x="514.00" y="476.70" font-size="9.0" class="it" text-anchor="start" fill="#222" textLength="20.30" lengthAdjust="spacingAndGlyphs" >37,14</text>
<text x="303.30" y="493.45" font-size="9.0" class="it" text-anchor="middle" fill="#222" textLength="7.20" lengthAdjust="spacingAndGlyphs" >14</text>
<text x="324.20" y="493.45" font-size="9.0" class="it" text-anchor="start" fill="#222" textLength="93.30" lengthAdjust="spacingAndGlyphs" >Складське приміщення</text>
<text x="487.00" y="493.45" font-size="8.280000000000001" class="it" text-anchor="start" fill="#222" >м</text>
<text x="492.90" y="490.35" font-size="5.58" class="it" text-anchor="start" fill="#222" >2</text>
<text x="514.90" y="493.45" font-size="9.0" class="it" text-anchor="start" fill="#222" textLength="20.30" lengthAdjust="spacingAndGlyphs" >66,81</text>
<text x="303.30" y="510.20" font-size="9.0" class="it" text-anchor="middle" fill="#222" textLength="7.20" lengthAdjust="spacingAndGlyphs" >15</text>
<text x="326.50" y="510.20" font-size="9.0" class="it" text-anchor="start" fill="#222" textLength="33.00" lengthAdjust="spacingAndGlyphs" >Кімната</text>
<text x="485.50" y="510.20" font-size="8.280000000000001" class="it" text-anchor="start" fill="#222" >м</text>
<text x="491.40" y="507.10" font-size="5.58" class="it" text-anchor="start" fill="#222" >2</text>
<text x="510.40" y="510.20" font-size="9.0" class="it" text-anchor="start" fill="#222" textLength="20.60" lengthAdjust="spacingAndGlyphs" >32,39</text>
<text x="303.30" y="526.95" font-size="9.0" class="it" text-anchor="middle" fill="#222" textLength="7.20" lengthAdjust="spacingAndGlyphs" >16</text>
<text x="327.40" y="526.95" font-size="9.0" class="it" text-anchor="start" fill="#222" textLength="93.30" lengthAdjust="spacingAndGlyphs" >Складське приміщення</text>
<text x="485.50" y="526.95" font-size="8.280000000000001" class="it" text-anchor="start" fill="#222" >м</text>
<text x="491.40" y="523.85" font-size="5.58" class="it" text-anchor="start" fill="#222" >2</text>
<text x="510.40" y="526.95" font-size="9.0" class="it" text-anchor="start" fill="#222" textLength="20.60" lengthAdjust="spacingAndGlyphs" >32,42</text>
<text x="303.30" y="543.70" font-size="9.0" class="it" text-anchor="middle" fill="#222" textLength="7.20" lengthAdjust="spacingAndGlyphs" >17</text>
<text x="327.00" y="543.70" font-size="9.0" class="it" text-anchor="start" fill="#222" textLength="69.00" lengthAdjust="spacingAndGlyphs" >Сходова клітина</text>
<text x="485.50" y="543.70" font-size="8.280000000000001" class="it" text-anchor="start" fill="#222" >м</text>
<text x="491.40" y="540.60" font-size="5.58" class="it" text-anchor="start" fill="#222" >2</text>
<text x="511.30" y="543.70" font-size="9.0" class="it" text-anchor="start" fill="#222" textLength="20.30" lengthAdjust="spacingAndGlyphs" >21,73</text>
<text x="303.30" y="560.45" font-size="9.0" class="it" text-anchor="middle" fill="#222" textLength="7.20" lengthAdjust="spacingAndGlyphs" >18</text>
<text x="327.00" y="560.45" font-size="9.0" class="it" text-anchor="start" fill="#222" textLength="93.30" lengthAdjust="spacingAndGlyphs" >Складське приміщення</text>
<text x="485.50" y="560.45" font-size="8.280000000000001" class="it" text-anchor="start" fill="#222" >м</text>
<text x="491.40" y="557.35" font-size="5.58" class="it" text-anchor="start" fill="#222" >2</text>
<text x="514.90" y="560.45" font-size="9.0" class="it" text-anchor="start" fill="#222" textLength="20.30" lengthAdjust="spacingAndGlyphs" >66,81</text>
<text x="345.50" y="595.10" font-size="10.0" class="it" text-anchor="start" fill="#222" textLength="81.30" lengthAdjust="spacingAndGlyphs" >Загальна площа</text>
<text x="485.50" y="595.10" font-size="9.200000000000001" class="it" text-anchor="start" fill="#222" >м</text>
<text x="491.70" y="591.60" font-size="6.2" class="it" text-anchor="start" fill="#222" >2</text>
<text x="509.00" y="595.10" font-size="10.0" class="it" text-anchor="start" fill="#222" textLength="29.40" lengthAdjust="spacingAndGlyphs" >285,65</text>
</g>
<g>
<text x="584.20" y="452.70" font-size="12" class="it" text-anchor="start" fill="#222" textLength="136.80" lengthAdjust="spacingAndGlyphs" >Загальна площа, м.кв.</text>
<text x="775.80" y="452.70" font-size="12" class="it" text-anchor="start" fill="#222" textLength="48.70" lengthAdjust="spacingAndGlyphs" >- 687,35</text>
<text x="584.20" y="470.80" font-size="12" class="it" text-anchor="start" fill="#222" textLength="134.50" lengthAdjust="spacingAndGlyphs" >Площа забудови, м.кв.</text>
<text x="773.00" y="470.80" font-size="12" class="it" text-anchor="start" fill="#222" textLength="50.80" lengthAdjust="spacingAndGlyphs" >- 465,89</text>
<text x="584.20" y="489.00" font-size="12" class="it" text-anchor="start" fill="#222" textLength="173.50" lengthAdjust="spacingAndGlyphs" >Установча потужність, кВт</text>
<text x="584.20" y="506.70" font-size="12" class="it" text-anchor="start" fill="#222" textLength="150.00" lengthAdjust="spacingAndGlyphs" >Будівельний об’єм, м.куб</text>
<text x="775.80" y="506.70" font-size="12" class="it" text-anchor="start" fill="#222" textLength="54.20" lengthAdjust="spacingAndGlyphs" >- 2838,10</text>
<text x="775.80" y="489.00" font-size="12" class="it" text-anchor="start" fill="#222" >-</text>
<text x="792.90" y="489.00" font-size="12" class="it" text-anchor="start" fill="#222" textLength="13.70" lengthAdjust="spacingAndGlyphs" >60</text>
<text x="584.20" y="525.30" font-size="12" class="it" text-anchor="start" fill="#222" textLength="271.10" lengthAdjust="spacingAndGlyphs" >Висота приміщення (до перекриття) - 3,00 м.</text>
</g>
</svg>
</body></html>
